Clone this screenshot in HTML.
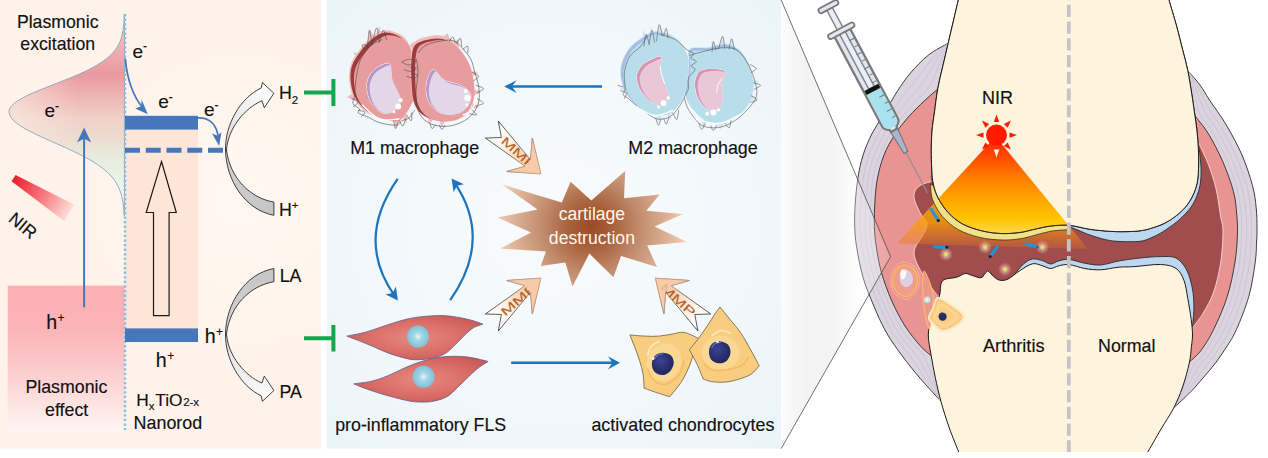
<!DOCTYPE html>
<html>
<head>
<meta charset="utf-8">
<title>Plasmonic nanorod arthritis scheme</title>
<style>
html,body{margin:0;padding:0;background:#fff;}
body{width:1268px;height:458px;overflow:hidden;font-family:"Liberation Sans",sans-serif;}
svg{display:block;}
text{font-family:"Liberation Sans",sans-serif;fill:#111;stroke:#111;stroke-width:0.15px;}
</style>
</head>
<body>
<svg width="1268" height="458" viewBox="0 0 1268 458">
<!-- ===== MIDDLE PANEL ===== -->
<defs>
  <radialGradient id="gMid" cx="0.5" cy="0.5" r="0.72">
    <stop offset="0" stop-color="#f8fbfd"/>
    <stop offset="0.55" stop-color="#f2f8fb"/>
    <stop offset="1" stop-color="#ebf4f9"/>
  </radialGradient>
  <radialGradient id="gStar" gradientUnits="userSpaceOnUse" cx="591" cy="226" r="95">
    <stop offset="0" stop-color="#9a4a24"/>
    <stop offset="0.25" stop-color="#a9633f"/>
    <stop offset="0.5" stop-color="#c08a6b"/>
    <stop offset="0.8" stop-color="#dcb094"/>
    <stop offset="1" stop-color="#efcdb4"/>
  </radialGradient>
  <linearGradient id="gMMP" gradientUnits="userSpaceOnUse" x1="492" y1="128" x2="538" y2="170">
    <stop offset="0" stop-color="#ffffff"/>
    <stop offset="0.35" stop-color="#fdf1e6"/>
    <stop offset="0.7" stop-color="#f9d3b5"/>
    <stop offset="1" stop-color="#f7c6a0"/>
  </linearGradient>
  <linearGradient id="gMMPs" gradientUnits="userSpaceOnUse" x1="492" y1="128" x2="538" y2="170">
    <stop offset="0" stop-color="#2a2a2a"/>
    <stop offset="0.55" stop-color="#555"/>
    <stop offset="1" stop-color="#c99a7c"/>
  </linearGradient>
  <radialGradient id="gFLS" cx="0.5" cy="0.5" r="0.6">
    <stop offset="0" stop-color="#e58980"/>
    <stop offset="0.55" stop-color="#db6f68"/>
    <stop offset="1" stop-color="#c95854"/>
  </radialGradient>
  <radialGradient id="gFN" cx="0.5" cy="0.5" r="0.5">
    <stop offset="0" stop-color="#e8f6fa"/>
    <stop offset="0.35" stop-color="#a6d8e6"/>
    <stop offset="1" stop-color="#7fc1d8"/>
  </radialGradient>
  <radialGradient id="gCN" cx="0.4" cy="0.35" r="0.7">
    <stop offset="0" stop-color="#3a4596"/>
    <stop offset="0.6" stop-color="#2a2f6e"/>
    <stop offset="1" stop-color="#20245a"/>
  </radialGradient>
  <g id="mmpArrow">
    <path d="M498.3,121 L530.5,159.7 L532.3,138.3 L540.9,173.9 L506.8,171.5 L525.1,166.3 L485.4,138 L501.4,137.5 Z" fill="url(#gMMP)" stroke="url(#gMMPs)" stroke-width="0.8" stroke-linejoin="miter"/>
  </g>
</defs>
<rect x="326.6" y="0" width="454.5" height="448.6" fill="url(#gMid)"/>
<g id="mid">
<path d="M367.9,42.2 L369.8,28.4 L374.4,38.8 Z" fill="#f0bcbb"/>
<path d="M374.4,38.8 L379.4,26.1 L381.7,37.6 Z" fill="#f0bcbb"/>
<path d="M381.7,36.5 L385.8,29.6 L388.6,36.0 Z" fill="#f0bcbb"/>
<path d="M358.8,59.4 L353.0,52.5 L364.5,53.7 Z" fill="#f0bcbb"/>
<path d="M351.9,93.8 L346.8,97.2 L355.3,100.7 Z" fill="#f0bcbb"/>
<path d="M394.3,120.2 L395.9,127.1 L400.0,119.0 Z" fill="#f0bcbb"/>
<path d="M402.3,116.7 L406.5,123.6 L407.4,113.3 Z" fill="#f0bcbb"/>
<path d="M409.2,45.6 L413.8,41.1 L412.7,50.2 Z" fill="#f0bcbb"/>
<path d="M384.2,30.3 C389.0,29.7 395.8,31.8 399.9,34.0 C403.9,36.2 406.3,39.1 408.4,43.6 C410.4,48.0 410.9,54.4 411.9,60.5 C412.9,66.5 414.3,73.7 414.3,79.7 C414.3,85.7 413.5,91.3 411.9,96.6 C410.3,101.8 407.5,107.1 404.7,111.1 C401.9,115.1 399.1,119.4 395.1,120.6 C391.1,121.8 385.5,119.6 380.6,118.2 C375.8,116.8 370.6,115.4 366.1,112.2 C361.7,109.0 357.0,104.0 354.2,99.0 C351.4,94.0 350.0,87.7 349.3,82.1 C348.7,76.5 348.9,70.5 350.5,65.3 C352.1,60.1 355.5,55.4 358.9,50.8 C362.3,46.2 366.8,41.0 371.0,37.6 C375.2,34.2 379.4,30.9 384.2,30.3 Z" fill="#f0bcbb"/>
<clipPath id="clipBm1a"><path d="M385.9,32.8 C390.6,32.2 397.3,34.2 401.3,36.4 C405.2,38.6 407.6,41.4 409.6,45.8 C411.6,50.1 412.1,56.4 413.1,62.4 C414.1,68.3 415.5,75.3 415.5,81.2 C415.5,87.1 414.7,92.7 413.1,97.8 C411.5,102.9 408.7,108.1 406.0,112.0 C403.2,115.9 400.5,120.2 396.6,121.4 C392.7,122.5 387.1,120.4 382.4,119.0 C377.7,117.6 372.5,116.3 368.2,113.1 C363.9,110.0 359.2,105.1 356.4,100.2 C353.7,95.2 352.3,89.1 351.7,83.6 C351.1,78.1 351.3,72.2 352.8,67.1 C354.4,62.0 357.7,57.4 361.1,52.9 C364.4,48.3 368.8,43.2 372.9,39.9 C377.1,36.6 381.2,33.4 385.9,32.8 Z"/></clipPath>
<path d="M384.0,32.7 C388.6,32.1 395.1,34.1 398.9,36.2 C402.7,38.3 405.1,41.1 407.0,45.3 C408.9,49.5 409.5,55.7 410.4,61.4 C411.4,67.1 412.7,74.0 412.7,79.7 C412.7,85.4 411.9,90.8 410.4,95.8 C408.9,100.8 406.2,105.8 403.5,109.6 C400.8,113.4 398.2,117.6 394.4,118.7 C390.6,119.8 385.2,117.7 380.6,116.4 C376.0,115.1 371.0,113.8 366.8,110.7 C362.6,107.7 358.1,102.9 355.4,98.1 C352.7,93.3 351.4,87.3 350.8,82.0 C350.2,76.7 350.4,71.0 351.9,66.0 C353.4,61.0 356.7,56.6 359.9,52.2 C363.2,47.8 367.4,42.9 371.4,39.6 C375.4,36.4 379.4,33.3 384.0,32.7 Z" fill="#9f3b3d"/>
<path d="M387.4,35.3 C392.0,34.7 398.5,36.7 402.3,38.8 C406.1,40.9 408.5,43.7 410.4,47.9 C412.3,52.1 412.9,58.3 413.8,64.0 C414.8,69.7 416.1,76.6 416.1,82.3 C416.1,88.0 415.3,93.4 413.8,98.4 C412.3,103.4 409.6,108.4 406.9,112.2 C404.2,116.0 401.6,120.2 397.8,121.3 C394.0,122.4 388.6,120.3 384.0,119.0 C379.4,117.7 374.4,116.3 370.2,113.3 C366.0,110.2 361.5,105.5 358.8,100.7 C356.1,95.9 354.8,89.9 354.2,84.6 C353.6,79.2 353.8,73.6 355.3,68.6 C356.8,63.6 360.1,59.2 363.3,54.8 C366.6,50.4 370.8,45.5 374.8,42.2 C378.8,39.0 382.8,35.9 387.4,35.3 Z" fill="#e79d9d"/>
<path d="M389.7,64.0 C391.8,66.3 390.3,74.3 392.0,80.0 C393.7,85.7 399.2,93.6 400.0,98.4 C400.8,103.2 399.3,106.2 396.6,108.7 C393.9,111.2 388.2,114.2 384.0,113.3 C379.8,112.3 374.3,107.4 371.4,103.0 C368.5,98.6 367.0,91.7 366.8,86.9 C366.6,82.1 368.1,77.7 370.2,74.3 C372.3,70.9 376.1,68.0 379.4,66.3 C382.6,64.6 387.6,61.7 389.7,64.0 Z" fill="#e3d7e7" stroke="#f3eef5" stroke-width="0.9"/>
<clipPath id="clipm1a"><path d="M389.7,64.0 C391.8,66.3 390.3,74.3 392.0,80.0 C393.7,85.7 399.2,93.6 400.0,98.4 C400.8,103.2 399.3,106.2 396.6,108.7 C393.9,111.2 388.2,114.2 384.0,113.3 C379.8,112.3 374.3,107.4 371.4,103.0 C368.5,98.6 367.0,91.7 366.8,86.9 C366.6,82.1 368.1,77.7 370.2,74.3 C372.3,70.9 376.1,68.0 379.4,66.3 C382.6,64.6 387.6,61.7 389.7,64.0 Z"/></clipPath>
<g clip-path="url(#clipm1a)"><path d="M389.7,64.0 C391.8,66.3 390.3,74.3 392.0,80.0 C393.7,85.7 399.2,93.6 400.0,98.4 C400.8,103.2 399.3,106.2 396.6,108.7 C393.9,111.2 388.2,114.2 384.0,113.3 C379.8,112.3 374.3,107.4 371.4,103.0 C368.5,98.6 367.0,91.7 366.8,86.9 C366.6,82.1 368.1,77.7 370.2,74.3 C372.3,70.9 376.1,68.0 379.4,66.3 C382.6,64.6 387.6,61.7 389.7,64.0 Z" fill="#b898c8"/><path d="M389.6,64.2 C391.7,66.5 390.2,74.4 391.9,80.1 C393.6,85.8 399.1,93.6 399.8,98.3 C400.6,103.0 399.1,106.0 396.5,108.5 C393.8,111.0 388.2,114.0 384.0,113.1 C379.8,112.1 374.4,107.2 371.5,102.9 C368.7,98.5 367.2,91.6 367.0,86.9 C366.8,82.2 368.3,77.8 370.3,74.4 C372.4,71.0 376.2,68.2 379.4,66.5 C382.7,64.8 387.6,62.0 389.6,64.2 Z" fill="#e3d7e7" transform="translate(2.6,1.8)"/></g>
<circle cx="400.7" cy="100.2" r="2.1" fill="#fff" opacity="0.96"/>
<circle cx="398.2" cy="106.4" r="3.0" fill="#fff" opacity="0.96"/>
<circle cx="393.9" cy="111.7" r="1.5" fill="#fff" opacity="0.96"/>
<path d="M432.5,42.2 L436.0,34.2 L440.6,40.6 Z" fill="#f0bcbb"/>
<path d="M440.6,40.6 L447.4,33.0 L450.9,42.2 Z" fill="#f0bcbb"/>
<path d="M452.0,43.3 L458.9,38.8 L458.9,47.9 Z" fill="#f0bcbb"/>
<path d="M471.5,70.9 L477.9,72.0 L473.3,76.6 Z" fill="#f0bcbb"/>
<path d="M473.3,89.2 L480.7,91.5 L473.8,96.1 Z" fill="#f0bcbb"/>
<path d="M472.7,103.0 L479.5,107.6 L471.1,108.7 Z" fill="#f0bcbb"/>
<path d="M427.9,116.7 L429.1,124.8 L433.7,119.0 Z" fill="#f0bcbb"/>
<path d="M439.4,121.3 L441.7,127.1 L445.1,121.3 Z" fill="#f0bcbb"/>
<path d="M414.4,42.3 C417.4,38.7 423.9,37.4 428.8,36.3 C433.6,35.2 438.8,34.6 443.2,35.8 C447.7,37.0 451.3,39.3 455.3,43.4 C459.3,47.5 464.5,54.3 467.3,60.3 C470.1,66.4 471.3,73.5 472.1,79.5 C472.9,85.6 473.3,91.0 472.1,96.5 C470.9,101.9 468.1,108.3 464.9,112.1 C461.7,115.9 457.7,117.9 452.9,119.3 C448.1,120.7 441.2,121.3 436.0,120.5 C430.8,119.7 425.3,117.7 421.5,114.5 C417.7,111.3 414.9,107.1 413.1,101.3 C411.3,95.5 411.1,86.8 410.7,79.5 C410.3,72.3 410.1,64.1 410.7,57.9 C411.3,51.7 411.4,45.9 414.4,42.3 Z" fill="#f0bcbb"/>
<clipPath id="clipBm1b"><path d="M416.6,44.6 C419.5,41.0 426.0,39.8 430.7,38.7 C435.4,37.6 440.5,37.0 444.9,38.2 C449.2,39.3 452.8,41.7 456.7,45.7 C460.7,49.7 465.7,56.4 468.5,62.3 C471.2,68.2 472.4,75.2 473.2,81.1 C474.0,87.0 474.4,92.4 473.2,97.7 C472.0,103.0 469.2,109.3 466.1,113.1 C463.0,116.8 459.1,118.8 454.4,120.2 C449.6,121.5 442.9,122.1 437.8,121.3 C432.6,120.5 427.3,118.6 423.6,115.4 C419.8,112.3 417.1,108.2 415.3,102.5 C413.6,96.7 413.4,88.2 413.0,81.1 C412.6,74.0 412.4,66.0 413.0,59.9 C413.6,53.8 413.6,48.1 416.6,44.6 Z"/></clipPath>
<path d="M415.0,45.2 C417.9,41.8 424.1,40.5 428.7,39.5 C433.3,38.5 438.3,37.9 442.5,39.0 C446.7,40.1 450.2,42.4 454.0,46.3 C457.8,50.2 462.7,56.7 465.4,62.4 C468.1,68.1 469.2,75.0 470.0,80.7 C470.8,86.4 471.1,91.6 470.0,96.8 C468.9,102.0 466.1,108.1 463.1,111.7 C460.0,115.3 456.3,117.3 451.7,118.6 C447.1,119.9 440.6,120.5 435.6,119.7 C430.6,118.9 425.4,117.0 421.8,114.0 C418.2,111.0 415.5,107.0 413.8,101.4 C412.1,95.9 411.9,87.6 411.5,80.7 C411.1,73.8 410.9,66.0 411.5,60.1 C412.1,54.2 412.1,48.6 415.0,45.2 Z" fill="#9f3b3d"/>
<path d="M418.8,46.8 C421.7,43.4 427.9,42.1 432.5,41.1 C437.1,40.1 442.1,39.5 446.3,40.6 C450.5,41.7 454.0,44.0 457.8,47.9 C461.6,51.8 466.5,58.3 469.2,64.0 C471.9,69.7 473.0,76.6 473.8,82.3 C474.6,88.0 475.0,93.2 473.8,98.4 C472.6,103.6 469.9,109.7 466.9,113.3 C463.8,116.9 460.1,118.9 455.5,120.2 C450.9,121.5 444.4,122.1 439.4,121.3 C434.4,120.5 429.2,118.6 425.6,115.6 C422.0,112.5 419.3,108.5 417.6,103.0 C415.9,97.5 415.7,89.2 415.3,82.3 C414.9,75.4 414.7,67.6 415.3,61.7 C415.9,55.8 415.9,50.2 418.8,46.8 Z" fill="#e79d9d"/>
<path d="M433.7,69.7 C436.4,70.1 439.6,77.4 444.0,80.0 C448.4,82.6 455.6,82.8 460.0,85.1 C464.4,87.4 469.0,90.4 470.4,93.8 C471.8,97.2 470.2,102.0 468.1,105.3 C466.0,108.5 462.2,112.0 457.8,113.3 C453.4,114.6 446.3,114.8 441.7,113.3 C437.1,111.8 432.8,107.7 430.2,104.1 C427.6,100.5 426.5,95.9 426.1,91.5 C425.7,87.1 426.6,81.4 427.9,77.8 C429.2,74.2 431.0,69.3 433.7,69.7 Z" fill="#e3d7e7" stroke="#f3eef5" stroke-width="0.9"/>
<clipPath id="clipm1b"><path d="M433.7,69.7 C436.4,70.1 439.6,77.4 444.0,80.0 C448.4,82.6 455.6,82.8 460.0,85.1 C464.4,87.4 469.0,90.4 470.4,93.8 C471.8,97.2 470.2,102.0 468.1,105.3 C466.0,108.5 462.2,112.0 457.8,113.3 C453.4,114.6 446.3,114.8 441.7,113.3 C437.1,111.8 432.8,107.7 430.2,104.1 C427.6,100.5 426.5,95.9 426.1,91.5 C425.7,87.1 426.6,81.4 427.9,77.8 C429.2,74.2 431.0,69.3 433.7,69.7 Z"/></clipPath>
<g clip-path="url(#clipm1b)"><path d="M433.7,69.7 C436.4,70.1 439.6,77.4 444.0,80.0 C448.4,82.6 455.6,82.8 460.0,85.1 C464.4,87.4 469.0,90.4 470.4,93.8 C471.8,97.2 470.2,102.0 468.1,105.3 C466.0,108.5 462.2,112.0 457.8,113.3 C453.4,114.6 446.3,114.8 441.7,113.3 C437.1,111.8 432.8,107.7 430.2,104.1 C427.6,100.5 426.5,95.9 426.1,91.5 C425.7,87.1 426.6,81.4 427.9,77.8 C429.2,74.2 431.0,69.3 433.7,69.7 Z" fill="#b898c8"/><path d="M433.8,69.9 C436.5,70.3 439.7,77.6 444.0,80.1 C448.4,82.7 455.5,82.9 459.9,85.2 C464.2,87.5 468.8,90.5 470.2,93.8 C471.5,97.1 470.0,102.0 467.9,105.2 C465.8,108.4 462.0,111.8 457.7,113.1 C453.3,114.4 446.3,114.6 441.7,113.1 C437.2,111.6 432.9,107.6 430.4,104.0 C427.8,100.4 426.7,95.9 426.3,91.5 C425.9,87.2 426.8,81.6 428.1,78.0 C429.3,74.4 431.2,69.6 433.8,69.9 Z" fill="#e3d7e7" transform="translate(2.6,1.8)"/></g>
<circle cx="465.8" cy="91.1" r="2.1" fill="#fff" opacity="0.96"/>
<circle cx="467.4" cy="97.9" r="3.2" fill="#fff" opacity="0.96"/>
<circle cx="466.9" cy="104.8" r="1.5" fill="#fff" opacity="0.96"/>
<path d="M381.9,39.6 C380.1,40.5 374.2,42.7 371.4,44.9 C368.6,47.1 366.9,49.9 364.9,52.7 C362.9,55.5 361.1,57.8 359.6,61.9 C358.2,66.0 357.1,71.9 356.2,77.6 C355.3,83.3 354.9,91.5 354.4,95.9 C353.9,100.3 352.2,101.6 353.1,103.8 C354.0,106.0 358.7,107.5 359.6,109.0 C360.5,110.5 356.8,111.5 358.3,112.9 C359.8,114.3 365.3,115.8 368.8,117.4 C372.3,119.0 374.7,121.3 379.3,122.6 C383.9,123.9 392.6,125.5 396.3,125.2 C400.0,124.9 399.4,122.0 401.5,120.8 C403.6,119.6 406.4,120.0 408.6,118.2 C410.8,116.5 413.6,111.6 414.6,110.3" fill="none" stroke="#4a4a4a" stroke-width="0.6" stroke-linecap="round"/>
<path d="M418.5,52.7 C419.8,51.4 422.0,47.0 426.4,44.9 C430.8,42.8 439.9,41.0 444.7,40.4 C449.5,39.8 452.1,40.1 455.2,41.5 C458.2,42.9 460.4,45.8 463.0,48.8 C465.6,51.8 468.9,55.4 470.9,59.3 C472.9,63.2 473.5,67.8 474.8,72.4 C476.1,77.0 478.1,81.6 478.7,86.8 C479.3,92.0 479.9,98.6 478.2,103.8 C476.5,109.0 473.0,114.5 468.3,118.2 C463.6,121.9 456.0,125.0 449.9,126.0 C443.8,127.0 436.6,126.2 431.6,124.2 C426.6,122.2 422.4,118.9 419.8,114.2 C417.2,109.5 416.2,102.9 415.9,95.9 C415.6,88.9 417.9,78.5 418.0,72.4 C418.1,66.3 416.7,61.5 416.4,59.3" fill="none" stroke="#4a4a4a" stroke-width="0.6" stroke-linecap="round"/>
<path d="M367.5,47.5 C367.8,44.7 368.6,30.9 369.3,30.5 C370.0,30.1 371.5,42.5 371.9,44.9" fill="none" stroke="#4a4a4a" stroke-width="0.6" stroke-linecap="round"/>
<path d="M371.9,44.9 C372.7,42.1 375.4,28.3 376.6,27.9 C377.8,27.5 378.9,39.9 379.3,42.3" fill="none" stroke="#4a4a4a" stroke-width="0.6" stroke-linecap="round"/>
<path d="M379.3,42.3 C379.9,40.3 382.0,30.9 383.2,30.5 C384.4,30.1 386.0,38.1 386.6,39.6" fill="none" stroke="#4a4a4a" stroke-width="0.6" stroke-linecap="round"/>
<path d="M364.9,51.4 C364.5,50.3 361.6,45.8 362.3,44.9 C363.0,44.0 368.1,46.0 369.3,46.2" fill="none" stroke="#4a4a4a" stroke-width="0.6" stroke-linecap="round"/>
<path d="M401.5,61.9 C402.7,62.4 406.2,65.1 408.6,65.0 C411.0,64.9 415.9,62.4 415.9,61.4 C415.9,60.4 410.8,59.3 408.6,59.3 C406.4,59.3 403.8,61.0 402.8,61.4" fill="none" stroke="#4a4a4a" stroke-width="0.6" stroke-linecap="round"/>
<path d="M404.1,69.7 C405.3,70.0 409.1,71.5 411.2,71.3 C413.2,71.0 416.6,68.9 416.4,68.2 C416.2,67.5 411.2,67.3 410.2,67.1" fill="none" stroke="#4a4a4a" stroke-width="0.6" stroke-linecap="round"/>
<path d="M406.8,76.3 C408.0,76.6 412.0,78.3 413.8,78.1 C415.6,77.9 418.0,75.7 417.7,75.0 C417.4,74.3 412.9,73.9 412.0,73.7" fill="none" stroke="#4a4a4a" stroke-width="0.6" stroke-linecap="round"/>
<path d="M351.8,98.5 C352.9,99.0 358.0,100.4 358.3,101.7 C358.6,103.0 354.4,105.6 353.6,106.4" fill="none" stroke="#4a4a4a" stroke-width="0.6" stroke-linecap="round"/>
<path d="M358.3,110.3 C359.4,110.6 364.4,111.1 364.9,112.1 C365.4,113.1 362.1,115.6 361.5,116.3" fill="none" stroke="#4a4a4a" stroke-width="0.6" stroke-linecap="round"/>
<path d="M393.7,120.8 C394.0,122.1 394.8,128.4 395.5,128.6 C396.2,128.8 397.7,123.2 398.1,122.1" fill="none" stroke="#4a4a4a" stroke-width="0.6" stroke-linecap="round"/>
<path d="M399.2,120.5 C399.8,121.4 401.8,126.2 402.8,126.0 C403.8,125.8 405.0,120.2 405.4,119.0" fill="none" stroke="#4a4a4a" stroke-width="0.6" stroke-linecap="round"/>
<path d="M406.8,115.5 C407.5,116.4 410.4,121.2 411.2,120.8 C412.0,120.4 411.6,114.2 411.7,112.9" fill="none" stroke="#4a4a4a" stroke-width="0.6" stroke-linecap="round"/>
<path d="M430.3,124.2 C430.6,124.9 431.2,128.5 432.1,128.6 C433.0,128.7 434.9,125.3 435.5,124.7" fill="none" stroke="#4a4a4a" stroke-width="0.6" stroke-linecap="round"/>
<path d="M439.5,125.2 C439.9,125.9 441.2,129.4 442.1,129.4 C443.0,129.4 444.3,125.9 444.7,125.2" fill="none" stroke="#4a4a4a" stroke-width="0.6" stroke-linecap="round"/>
<path d="M472.2,72.4 C473.3,73.1 478.5,74.9 478.7,76.3 C478.9,77.7 474.4,80.0 473.5,80.7" fill="none" stroke="#4a4a4a" stroke-width="0.6" stroke-linecap="round"/>
<path d="M476.1,85.4 C477.3,85.9 483.3,87.4 483.5,88.6 C483.7,89.8 478.4,92.1 477.4,92.8" fill="none" stroke="#4a4a4a" stroke-width="0.6" stroke-linecap="round"/>
<path d="M476.6,98.5 C477.8,99.3 483.6,102.0 483.5,103.2 C483.4,104.4 477.3,105.5 476.1,105.9" fill="none" stroke="#4a4a4a" stroke-width="0.6" stroke-linecap="round"/>
<path d="M470.9,109.0 C471.8,110.0 476.8,114.0 476.6,114.8 C476.4,115.6 470.8,113.9 469.6,113.7" fill="none" stroke="#4a4a4a" stroke-width="0.6" stroke-linecap="round"/>
<path d="M449.9,40.9 C450.3,40.2 451.7,36.8 452.6,37.0 C453.5,37.2 454.8,41.4 455.2,42.3" fill="none" stroke="#4a4a4a" stroke-width="0.6" stroke-linecap="round"/>
<path d="M456.5,43.6 C457.1,42.7 459.5,37.9 460.4,38.3 C461.3,38.7 461.5,44.9 461.7,46.2" fill="none" stroke="#4a4a4a" stroke-width="0.6" stroke-linecap="round"/>
<path d="M463.0,49.3 C463.8,48.8 466.9,45.6 467.7,46.2 C468.5,46.8 467.7,51.6 467.7,52.7" fill="none" stroke="#4a4a4a" stroke-width="0.6" stroke-linecap="round"/>
<path d="M362.3,105.1 C365.1,107.4 373.2,116.7 379.3,119.0 C385.4,121.3 395.6,119.0 398.9,119.0" fill="none" stroke="#ffffff" stroke-width="1.3" stroke-linecap="round"/>
<path d="M463.0,114.8 C464.4,114.0 469.1,113.0 471.4,110.3 C473.7,107.6 475.7,100.5 476.6,98.5" fill="none" stroke="#ffffff" stroke-width="1.3" stroke-linecap="round"/>
<path d="M643.7,42.2 L642.5,29.6 L648.3,38.8 Z" fill="#cfe5f0"/>
<path d="M649.4,38.8 L651.2,26.1 L654.4,36.5 Z" fill="#cfe5f0"/>
<path d="M657.4,35.3 L659.7,25.0 L663.2,36.5 Z" fill="#cfe5f0"/>
<path d="M619.6,86.9 L625.3,88.1 L624.2,92.7 Z" fill="#cfe5f0"/>
<path d="M656.3,115.6 L658.1,123.6 L662.0,116.3 Z" fill="#cfe5f0"/>
<path d="M666.6,113.3 L670.0,120.2 L672.3,111.0 Z" fill="#cfe5f0"/>
<path d="M654.3,31.0 C659.0,30.6 666.0,32.2 670.7,34.5 C675.5,36.9 679.6,40.6 682.6,45.1 C685.5,49.6 687.7,55.8 688.4,61.7 C689.2,67.6 688.3,75.0 687.3,80.5 C686.3,86.1 684.9,90.0 682.6,94.8 C680.2,99.5 677.0,105.6 673.1,109.0 C669.2,112.3 664.1,114.7 659.0,114.8 C653.9,115.0 647.5,113.1 642.4,110.1 C637.3,107.2 631.8,102.1 628.3,97.1 C624.8,92.2 622.4,86.1 621.2,80.5 C620.0,75.0 619.8,69.6 621.2,64.1 C622.6,58.6 625.9,52.0 629.4,47.5 C633.0,43.0 638.3,39.6 642.4,36.9 C646.5,34.1 649.5,31.4 654.3,31.0 Z" fill="#cfe5f0"/>
<clipPath id="clipBm2a"><path d="M654.8,31.8 C659.5,31.4 666.5,33.0 671.2,35.3 C676.0,37.7 680.1,41.4 683.1,45.9 C686.0,50.4 688.2,56.6 688.9,62.5 C689.7,68.4 688.8,75.8 687.8,81.3 C686.8,86.9 685.4,90.8 683.1,95.6 C680.7,100.3 677.5,106.4 673.6,109.8 C669.7,113.1 664.6,115.5 659.5,115.6 C654.4,115.8 648.0,113.9 642.9,110.9 C637.8,108.0 632.3,102.9 628.8,97.9 C625.3,93.0 622.9,86.9 621.7,81.3 C620.5,75.8 620.3,70.4 621.7,64.9 C623.1,59.4 626.4,52.8 629.9,48.3 C633.5,43.8 638.8,40.4 642.9,37.7 C647.0,34.9 650.0,32.2 654.8,31.8 Z"/></clipPath>
<path d="M653.9,32.4 C658.5,32.0 665.3,33.5 669.9,35.8 C674.5,38.1 678.5,41.7 681.4,46.1 C684.3,50.5 686.3,56.5 687.1,62.2 C687.9,67.9 687.0,75.2 686.0,80.5 C685.0,85.8 683.7,89.7 681.4,94.3 C679.1,98.9 676.0,104.9 672.2,108.1 C668.4,111.4 663.5,113.6 658.5,113.8 C653.5,114.0 647.4,112.1 642.4,109.2 C637.4,106.3 632.1,101.4 628.7,96.6 C625.3,91.8 623.0,85.8 621.8,80.5 C620.7,75.2 620.5,69.8 621.8,64.5 C623.1,59.1 626.4,52.8 629.8,48.4 C633.2,44.0 638.4,40.8 642.4,38.1 C646.4,35.4 649.3,32.8 653.9,32.4 Z" fill="#a5bde3"/>
<path d="M656.3,34.2 C660.9,33.8 667.7,35.3 672.3,37.6 C676.9,39.9 680.9,43.5 683.8,47.9 C686.7,52.3 688.7,58.3 689.5,64.0 C690.3,69.7 689.4,77.0 688.4,82.3 C687.4,87.6 686.1,91.5 683.8,96.1 C681.5,100.7 678.4,106.7 674.6,109.9 C670.8,113.2 665.9,115.4 660.9,115.6 C655.9,115.8 649.8,113.9 644.8,111.0 C639.8,108.1 634.5,103.2 631.1,98.4 C627.7,93.6 625.4,87.7 624.2,82.3 C623.1,76.9 622.9,71.6 624.2,66.3 C625.5,60.9 628.8,54.6 632.2,50.2 C635.6,45.8 640.8,42.6 644.8,39.9 C648.8,37.2 651.7,34.6 656.3,34.2 Z" fill="#b8deec"/>
<path d="M660.9,57.1 C662.2,59.0 658.9,65.9 659.7,70.9 C660.5,75.9 664.0,82.7 665.5,86.9 C667.0,91.1 669.1,93.2 668.9,96.1 C668.7,99.0 667.0,102.9 664.3,104.1 C661.6,105.2 656.6,105.1 652.8,103.0 C649.0,100.9 644.1,95.9 641.4,91.5 C638.7,87.1 636.6,81.0 636.8,76.6 C637.0,72.2 640.0,68.0 642.5,65.1 C645.0,62.2 648.6,60.7 651.7,59.4 C654.8,58.1 659.6,55.2 660.9,57.1 Z" fill="#e9c7d7" stroke="#f3eef5" stroke-width="0.9"/>
<clipPath id="clipm2a"><path d="M660.9,57.1 C662.2,59.0 658.9,65.9 659.7,70.9 C660.5,75.9 664.0,82.7 665.5,86.9 C667.0,91.1 669.1,93.2 668.9,96.1 C668.7,99.0 667.0,102.9 664.3,104.1 C661.6,105.2 656.6,105.1 652.8,103.0 C649.0,100.9 644.1,95.9 641.4,91.5 C638.7,87.1 636.6,81.0 636.8,76.6 C637.0,72.2 640.0,68.0 642.5,65.1 C645.0,62.2 648.6,60.7 651.7,59.4 C654.8,58.1 659.6,55.2 660.9,57.1 Z"/></clipPath>
<g clip-path="url(#clipm2a)"><path d="M660.9,57.1 C662.2,59.0 658.9,65.9 659.7,70.9 C660.5,75.9 664.0,82.7 665.5,86.9 C667.0,91.1 669.1,93.2 668.9,96.1 C668.7,99.0 667.0,102.9 664.3,104.1 C661.6,105.2 656.6,105.1 652.8,103.0 C649.0,100.9 644.1,95.9 641.4,91.5 C638.7,87.1 636.6,81.0 636.8,76.6 C637.0,72.2 640.0,68.0 642.5,65.1 C645.0,62.2 648.6,60.7 651.7,59.4 C654.8,58.1 659.6,55.2 660.9,57.1 Z" fill="#d693b2"/><path d="M660.8,57.3 C662.2,59.2 658.9,66.1 659.6,71.0 C660.4,75.9 663.9,82.7 665.4,86.8 C666.9,91.0 669.0,93.1 668.8,95.9 C668.6,98.8 666.9,102.7 664.2,103.9 C661.5,105.0 656.6,104.9 652.8,102.8 C649.0,100.7 644.2,95.8 641.5,91.4 C638.9,87.0 636.8,81.0 637.0,76.6 C637.2,72.3 640.2,68.1 642.6,65.3 C645.1,62.4 648.7,60.9 651.7,59.6 C654.8,58.3 659.5,55.4 660.8,57.3 Z" fill="#e9c7d7" transform="translate(2.6,1.8)"/></g>
<circle cx="663.6" cy="103.0" r="3.0" fill="#fff" opacity="0.96"/>
<circle cx="668.2" cy="97.9" r="1.8" fill="#fff" opacity="0.96"/>
<circle cx="658.6" cy="107.1" r="1.5" fill="#fff" opacity="0.96"/>
<path d="M711.0,50.6 L711.7,40.3 L715.6,49.5 Z" fill="#cfe5f0"/>
<path d="M719.0,48.8 L722.4,36.9 L725.4,47.9 Z" fill="#cfe5f0"/>
<path d="M729.3,48.8 L732.8,39.2 L735.0,50.6 Z" fill="#cfe5f0"/>
<path d="M751.1,79.3 L759.1,81.6 L752.9,86.2 Z" fill="#cfe5f0"/>
<path d="M751.6,94.2 L756.8,98.8 L750.0,101.1 Z" fill="#cfe5f0"/>
<path d="M701.8,120.6 L702.9,128.6 L707.5,122.2 Z" fill="#cfe5f0"/>
<path d="M717.8,122.9 L720.1,129.8 L724.7,122.9 Z" fill="#cfe5f0"/>
<path d="M689.7,48.4 C693.1,46.0 702.7,47.9 708.6,47.1 C714.5,46.3 720.0,43.2 725.1,43.6 C730.3,44.0 735.3,46.1 739.3,49.5 C743.2,52.8 746.4,58.2 748.7,63.7 C751.1,69.2 753.3,76.6 753.5,82.6 C753.7,88.5 752.3,94.0 750.0,99.1 C747.6,104.3 743.8,109.6 739.3,113.3 C734.7,117.1 728.3,120.4 722.8,121.6 C717.3,122.8 711.3,122.5 706.2,120.4 C701.1,118.2 695.6,112.9 692.1,108.6 C688.5,104.3 685.8,99.5 685.0,94.4 C684.2,89.3 686.8,83.4 687.3,77.9 C687.9,72.4 688.1,66.3 688.5,61.3 C688.9,56.4 686.4,50.7 689.7,48.4 Z" fill="#cfe5f0"/>
<clipPath id="clipBm2b"><path d="M689.2,49.7 C692.6,47.3 702.2,49.2 708.1,48.4 C714.0,47.6 719.5,44.5 724.6,44.9 C729.8,45.3 734.8,47.4 738.8,50.8 C742.7,54.1 745.9,59.5 748.2,65.0 C750.6,70.5 752.8,77.9 753.0,83.9 C753.2,89.8 751.8,95.3 749.5,100.4 C747.1,105.6 743.3,110.9 738.8,114.6 C734.2,118.4 727.8,121.7 722.3,122.9 C716.8,124.1 710.8,123.8 705.7,121.7 C700.6,119.5 695.1,114.2 691.6,109.9 C688.0,105.6 685.3,100.8 684.5,95.7 C683.7,90.6 686.3,84.7 686.8,79.2 C687.4,73.7 687.6,67.6 688.0,62.6 C688.4,57.7 685.9,52.0 689.2,49.7 Z"/></clipPath>
<path d="M690.5,49.2 C693.8,46.9 703.1,48.8 708.8,48.0 C714.5,47.2 719.9,44.2 724.9,44.6 C729.9,45.0 734.8,47.0 738.6,50.3 C742.4,53.5 745.5,58.8 747.8,64.1 C750.1,69.5 752.2,76.7 752.4,82.4 C752.6,88.1 751.3,93.5 749.0,98.5 C746.7,103.5 743.0,108.7 738.6,112.3 C734.2,115.9 728.0,119.2 722.6,120.3 C717.2,121.4 711.5,121.2 706.5,119.1 C701.5,117.0 696.2,111.9 692.8,107.7 C689.4,103.5 686.7,98.9 685.9,93.9 C685.1,88.9 687.6,83.2 688.2,77.9 C688.8,72.6 688.9,66.6 689.3,61.8 C689.7,57.0 687.2,51.5 690.5,49.2 Z" fill="#a5bde3"/>
<path d="M691.5,51.8 C694.8,49.5 704.1,51.4 709.8,50.6 C715.5,49.8 720.9,46.8 725.9,47.2 C730.9,47.6 735.8,49.6 739.6,52.9 C743.4,56.1 746.5,61.4 748.8,66.7 C751.1,72.0 753.2,79.3 753.4,85.0 C753.6,90.7 752.3,96.1 750.0,101.1 C747.7,106.1 744.0,111.3 739.6,114.9 C735.2,118.5 729.0,121.8 723.6,122.9 C718.2,124.0 712.5,123.8 707.5,121.7 C702.5,119.6 697.2,114.5 693.8,110.3 C690.4,106.1 687.7,101.5 686.9,96.5 C686.1,91.5 688.6,85.8 689.2,80.5 C689.8,75.2 689.9,69.2 690.3,64.4 C690.7,59.6 688.2,54.1 691.5,51.8 Z" fill="#b8deec"/>
<path d="M702.9,70.1 C706.1,69.1 712.9,68.6 716.7,69.0 C720.5,69.4 725.1,70.1 725.9,72.4 C726.7,74.7 721.9,78.4 721.3,82.8 C720.7,87.2 722.8,94.4 722.4,98.8 C722.0,103.2 721.5,107.4 719.0,109.1 C716.5,110.8 711.0,110.8 707.5,109.1 C704.0,107.4 700.4,102.8 698.3,98.8 C696.2,94.8 695.1,89.0 694.9,85.0 C694.7,81.0 695.9,77.2 697.2,74.7 C698.5,72.2 699.6,71.0 702.9,70.1 Z" fill="#e9c7d7" stroke="#f3eef5" stroke-width="0.9"/>
<clipPath id="clipm2b"><path d="M702.9,70.1 C706.1,69.1 712.9,68.6 716.7,69.0 C720.5,69.4 725.1,70.1 725.9,72.4 C726.7,74.7 721.9,78.4 721.3,82.8 C720.7,87.2 722.8,94.4 722.4,98.8 C722.0,103.2 721.5,107.4 719.0,109.1 C716.5,110.8 711.0,110.8 707.5,109.1 C704.0,107.4 700.4,102.8 698.3,98.8 C696.2,94.8 695.1,89.0 694.9,85.0 C694.7,81.0 695.9,77.2 697.2,74.7 C698.5,72.2 699.6,71.0 702.9,70.1 Z"/></clipPath>
<g clip-path="url(#clipm2b)"><path d="M702.9,70.1 C706.1,69.1 712.9,68.6 716.7,69.0 C720.5,69.4 725.1,70.1 725.9,72.4 C726.7,74.7 721.9,78.4 721.3,82.8 C720.7,87.2 722.8,94.4 722.4,98.8 C722.0,103.2 721.5,107.4 719.0,109.1 C716.5,110.8 711.0,110.8 707.5,109.1 C704.0,107.4 700.4,102.8 698.3,98.8 C696.2,94.8 695.1,89.0 694.9,85.0 C694.7,81.0 695.9,77.2 697.2,74.7 C698.5,72.2 699.6,71.0 702.9,70.1 Z" fill="#d693b2"/><path d="M703.0,70.3 C706.2,69.3 712.8,68.8 716.6,69.2 C720.4,69.6 725.0,70.3 725.7,72.5 C726.5,74.8 721.8,78.5 721.2,82.8 C720.6,87.2 722.7,94.3 722.3,98.7 C721.9,103.0 721.4,107.2 718.9,108.9 C716.5,110.6 710.9,110.6 707.5,108.9 C704.1,107.2 700.5,102.7 698.4,98.7 C696.3,94.7 695.2,89.0 695.1,85.0 C694.9,81.0 696.0,77.3 697.3,74.8 C698.7,72.4 699.8,71.2 703.0,70.3 Z" fill="#e9c7d7" transform="translate(2.6,1.8)"/></g>
<circle cx="713.3" cy="112.6" r="3.0" fill="#fff" opacity="0.96"/>
<circle cx="707.1" cy="113.7" r="2.0" fill="#fff" opacity="0.96"/>
<circle cx="718.5" cy="109.8" r="1.6" fill="#fff" opacity="0.96"/>
<path d="M660.0,66.7 C660.3,68.0 661.0,71.5 661.8,74.3 C662.5,77.1 664.0,82.0 664.5,83.5" fill="none" stroke="#ffffff" stroke-width="1.0" stroke-linecap="round"/>
<path d="M721.7,78.6 C721.1,79.7 718.6,82.7 717.8,85.0 C717.0,87.3 716.9,91.2 716.7,92.4" fill="none" stroke="#ffffff" stroke-width="1.0" stroke-linecap="round"/>
<path d="M646.6,36.2 C645.6,37.9 643.7,42.8 640.9,46.2 C638.1,49.6 632.4,52.2 629.6,56.6 C626.9,61.0 625.1,67.1 624.4,72.4 C623.7,77.7 625.4,84.9 625.2,88.6 C625.0,92.3 622.6,92.9 623.1,94.6 C623.6,96.2 626.3,96.9 628.3,98.5 C630.3,100.1 632.3,102.2 634.9,104.3 C637.5,106.4 640.3,108.6 644.0,111.1 C647.7,113.5 652.6,118.1 657.1,119.0 C661.6,119.9 666.8,118.8 670.7,116.3 C674.6,113.8 678.2,108.0 680.7,104.3 C683.2,100.5 685.0,95.5 685.9,93.8" fill="none" stroke="#555" stroke-width="0.6" stroke-linecap="round"/>
<path d="M689.8,55.3 C691.8,54.7 696.6,53.1 701.6,51.9 C706.6,50.7 714.2,48.4 719.9,48.0 C725.6,47.6 731.3,47.2 735.7,49.3 C740.1,51.4 743.1,55.8 746.1,60.6 C749.1,65.4 752.2,72.2 754.0,78.1 C755.8,84.0 757.7,90.7 756.6,95.9 C755.5,101.1 750.9,105.5 747.4,109.5 C743.9,113.5 740.3,117.0 735.7,120.0 C731.1,123.0 725.6,126.4 719.9,127.3 C714.2,128.2 706.8,128.2 701.6,125.2 C696.4,122.2 691.3,114.0 688.5,109.5 C685.7,105.0 685.2,100.3 684.6,98.5" fill="none" stroke="#555" stroke-width="0.6" stroke-linecap="round"/>
<path d="M659.7,34.4 C662.3,35.3 670.8,37.0 675.4,39.6 C680.0,42.2 684.1,47.8 687.2,50.1 C690.3,52.4 693.2,52.2 693.8,53.5 C694.4,54.8 690.2,56.7 690.6,58.0 C691.0,59.3 696.3,60.1 696.4,61.4 C696.5,62.7 691.4,64.4 691.2,65.8 C691.0,67.2 695.6,67.7 695.1,69.7 C694.6,71.8 689.6,74.9 688.5,78.1 C687.4,81.2 688.9,86.0 688.5,88.6 C688.1,91.2 686.3,92.9 685.9,93.8" fill="none" stroke="#555" stroke-width="0.6" stroke-linecap="round"/>
<path d="M644.0,46.2 C644.4,44.2 645.2,34.6 646.1,34.4 C647.0,34.2 648.8,43.1 649.3,44.9" fill="none" stroke="#555" stroke-width="0.6" stroke-linecap="round"/>
<path d="M649.3,43.6 C649.7,41.4 651.0,30.7 651.9,30.5 C652.8,30.3 654.1,40.3 654.5,42.3" fill="none" stroke="#555" stroke-width="0.6" stroke-linecap="round"/>
<path d="M656.6,40.9 C657.0,38.2 658.2,25.6 659.2,24.7 C660.2,23.8 661.9,33.9 662.4,35.7" fill="none" stroke="#555" stroke-width="0.6" stroke-linecap="round"/>
<path d="M663.7,35.7 C664.1,34.5 665.6,28.1 666.3,28.4 C667.0,28.7 667.8,36.2 668.1,37.8" fill="none" stroke="#555" stroke-width="0.6" stroke-linecap="round"/>
<path d="M712.1,51.4 C712.3,49.8 712.8,41.7 713.4,41.5 C714.0,41.3 715.6,48.7 716.0,50.1" fill="none" stroke="#555" stroke-width="0.6" stroke-linecap="round"/>
<path d="M718.6,48.8 C719.3,46.7 721.6,36.3 722.6,36.2 C723.6,36.1 724.4,46.3 724.7,48.3" fill="none" stroke="#555" stroke-width="0.6" stroke-linecap="round"/>
<path d="M729.1,48.8 C729.5,47.1 730.8,38.7 731.7,38.8 C732.6,38.9 733.9,47.5 734.3,49.3" fill="none" stroke="#555" stroke-width="0.6" stroke-linecap="round"/>
<path d="M620.5,90.7 C621.5,91.1 625.6,92.0 626.2,93.3 C626.9,94.6 624.7,97.6 624.4,98.5" fill="none" stroke="#555" stroke-width="0.6" stroke-linecap="round"/>
<path d="M617.9,85.4 C618.8,85.6 622.2,86.6 623.1,86.8" fill="none" stroke="#555" stroke-width="0.6" stroke-linecap="round"/>
<path d="M655.8,118.2 C656.2,119.4 657.5,125.1 658.4,125.2 C659.3,125.3 660.6,120.0 661.0,119.0" fill="none" stroke="#555" stroke-width="0.6" stroke-linecap="round"/>
<path d="M663.7,118.2 C664.1,119.2 665.4,124.4 666.3,124.2 C667.2,124.0 668.5,118.1 668.9,116.9" fill="none" stroke="#555" stroke-width="0.6" stroke-linecap="round"/>
<path d="M672.8,112.9 C673.5,114.0 675.8,119.9 676.8,119.5 C677.8,119.1 678.3,111.8 678.6,110.3" fill="none" stroke="#555" stroke-width="0.6" stroke-linecap="round"/>
<path d="M699.0,123.4 C699.4,124.4 700.6,129.3 701.6,129.4 C702.6,129.5 704.3,125.1 704.8,124.2" fill="none" stroke="#555" stroke-width="0.6" stroke-linecap="round"/>
<path d="M710.8,126.0 C711.2,126.8 712.4,130.6 713.4,130.5 C714.4,130.4 716.2,126.1 716.8,125.2" fill="none" stroke="#555" stroke-width="0.6" stroke-linecap="round"/>
<path d="M725.2,123.4 C725.9,124.2 728.2,128.3 729.1,127.9 C730.0,127.5 730.6,122.0 730.9,120.8" fill="none" stroke="#555" stroke-width="0.6" stroke-linecap="round"/>
<path d="M750.1,64.5 C751.1,65.2 755.9,67.1 756.1,68.4 C756.3,69.7 752.2,71.7 751.4,72.4" fill="none" stroke="#555" stroke-width="0.6" stroke-linecap="round"/>
<path d="M753.5,82.8 C754.7,83.2 760.4,84.3 760.5,85.4 C760.6,86.5 755.1,88.7 754.0,89.4" fill="none" stroke="#555" stroke-width="0.6" stroke-linecap="round"/>
<path d="M751.4,95.9 C752.4,96.6 757.3,98.7 757.1,99.8 C756.9,100.9 751.3,102.0 750.1,102.5" fill="none" stroke="#555" stroke-width="0.6" stroke-linecap="round"/>
<path d="M636.2,106.4 C639.2,107.9 648.4,114.8 654.5,115.5 C660.6,116.2 669.8,111.2 672.8,110.3" fill="none" stroke="#ffffff" stroke-width="1.3" stroke-linecap="round"/>
<path d="M696.4,119.5 C700.3,120.2 712.5,124.3 719.9,123.4 C727.3,122.5 737.4,115.7 740.9,114.2" fill="none" stroke="#ffffff" stroke-width="1.3" stroke-linecap="round"/>
<text x="350.2" y="154.4" font-size="17.7" textLength="129.0" lengthAdjust="spacingAndGlyphs" >M1 macrophage</text>
<text x="628.3" y="154.4" font-size="17.7" textLength="129.5" lengthAdjust="spacingAndGlyphs" >M2 macrophage</text>
<text x="335.2" y="431.3" font-size="17.7" textLength="171.0" lengthAdjust="spacingAndGlyphs" >pro-inflammatory FLS</text>
<text x="591.4" y="431.3" font-size="17.7" textLength="183.0" lengthAdjust="spacingAndGlyphs" >activated chondrocytes</text>
<line x1="602" y1="86.6" x2="510" y2="86.6" stroke="#1c75bc" stroke-width="2.5"/>
<path d="M504.2,86.6 L516.6,80.2 L511.8,86.6 L516.6,93 Z" fill="#1c75bc"/>
<line x1="511.2" y1="362.8" x2="614" y2="362.8" stroke="#1c75bc" stroke-width="2.5"/>
<path d="M620,362.8 L607.8,356.2 L612.6,362.8 L607.8,369.4 Z" fill="#1c75bc"/>
<path d="M397.7,178.8 Q355.1,239.4 394.5,295.6" fill="none" stroke="#1c75bc" stroke-width="2.2"/>
<path d="M397.9,300.4 L385.6,294.6 L392.6,293 L395.9,286.6 Z" fill="#1c75bc"/>
<path d="M450.2,300.1 Q492.8,239.4 454.8,183.2" fill="none" stroke="#1c75bc" stroke-width="2.2"/>
<path d="M451.6,178.4 L463.9,184.2 L456.9,185.8 L453.6,192.2 Z" fill="#1c75bc"/>
<path d="M497.6,217.5 L537.5,209.5 L502.2,184.5 L561.8,202.6 L570.6,181.8 L591.3,200.4 L625.2,170.9 L624.0,198.2 L659.7,194.5 L646.3,210.7 L683.0,214.1 L654.6,226.6 L687.0,241.9 L647.2,245.5 L657.0,267.0 L621.0,256.0 L613.4,277.2 L589.3,253.5 L572.5,286.6 L565.3,262.6 L540.7,265.9 L546.0,251.5 L500.2,248.5 L531.0,232.5 Z" fill="url(#gStar)"/>
<text x="591.9" y="220" font-size="17.6" text-anchor="middle" style="fill:#fff6ee;stroke:none">cartilage</text>
<text x="591.9" y="244" font-size="17.6" text-anchor="middle" style="fill:#fff6ee;stroke:none">destruction</text>
<use href="#mmpArrow"/>
<text transform="translate(500.3,141.9) rotate(42.5) scale(1.56,1)" style="fill:#b5621e;stroke:#b5621e;stroke-width:0.1" font-size="11.8">MMP</text>
<path d="M530.5,159.7 L532.3,138.3 L540.9,173.9 L506.8,171.5 L525.1,166.3" fill="#f8cba8" stroke="#b9917a" stroke-width="0.6"/>
<use href="#mmpArrow" transform="translate(0,452) scale(1,-1)"/>
<text transform="translate(505.3,316.8) rotate(-41.5) scale(1.56,1)" style="fill:#b5621e;stroke:#b5621e;stroke-width:0.1" font-size="11.8">MMP</text>
<path d="M530.5,292.3 L532.3,313.7 L540.9,278.1 L506.8,280.5 L525.1,285.7" fill="#f8cba8" stroke="#b9917a" stroke-width="0.6"/>
<use href="#mmpArrow" transform="translate(1196.2,452) scale(-1,-1)"/>
<text transform="translate(659.5,288.4) rotate(42.5) scale(1.56,1)" style="fill:#b5621e;stroke:#b5621e;stroke-width:0.1" font-size="11.8">MMP</text>
<path d="M665.7,292.3 L663.9,313.7 L655.3,278.1 L689.4,280.5 L671.1,285.7" fill="#f8cba8" fill-opacity="0.78" stroke="#b9917a" stroke-width="0.6"/>
<path d="M346.8,336.1 C350.1,335.4 359.6,333.8 366.4,331.9 C373.2,330.0 380.4,327.1 387.4,324.9 C394.4,322.7 401.8,320.2 408.3,318.8 C414.8,317.4 420.5,316.7 426.6,316.2 C432.7,315.7 439.2,315.4 444.9,315.7 C450.6,316.0 455.9,316.9 460.7,317.8 C465.5,318.7 470.0,319.8 473.7,320.9 C477.4,321.9 481.4,323.6 482.9,324.1 L482.9,324.1 C480.9,325.0 475.7,325.9 471.1,329.3 C466.5,332.7 459.8,340.4 455.4,344.5 C451.0,348.6 448.8,351.4 444.9,353.7 C441.0,356.0 436.2,357.1 431.9,358.1 C427.5,359.1 422.7,359.6 418.8,359.7 C414.9,359.8 413.1,359.9 408.3,358.9 C403.5,357.9 395.7,355.7 390.0,353.7 C384.3,351.7 379.5,349.3 374.3,347.1 C369.1,344.9 363.2,342.4 358.6,340.6 C354.0,338.8 348.8,336.9 346.8,336.1 Z" fill="url(#gFLS)" stroke="#5f5c8a" stroke-width="0.8" stroke-linejoin="miter"/>
<circle cx="418.0" cy="336.6" r="11" fill="url(#gFN)"/>
<path d="M353.8,383.8 C356.8,383.4 366.0,382.5 371.6,381.2 C377.2,379.9 381.7,378.2 387.4,375.9 C393.1,373.6 400.0,369.9 405.7,367.5 C411.4,365.1 416.2,363.1 421.4,361.5 C426.6,359.9 431.9,358.5 437.1,357.6 C442.3,356.7 448.0,356.4 452.8,356.3 C457.6,356.2 462.0,356.4 465.9,356.8 C469.8,357.2 472.7,357.8 476.4,358.6 C480.1,359.4 486.2,361.0 488.1,361.5 L488.1,361.5 C486.2,362.8 481.4,365.2 476.4,369.4 C471.4,373.6 462.8,382.4 458.0,386.9 C453.2,391.4 451.5,393.9 447.6,396.3 C443.7,398.7 438.9,400.0 434.5,401.0 C430.1,402.0 425.8,402.1 421.4,402.1 C417.0,402.1 413.5,401.8 408.3,400.8 C403.1,399.8 395.7,397.8 390.0,396.3 C384.3,394.8 379.1,393.2 374.3,391.6 C369.5,390.0 364.6,388.2 361.2,386.9 C357.8,385.6 355.0,384.3 353.8,383.8 Z" fill="url(#gFLS)" stroke="#5f5c8a" stroke-width="0.8" stroke-linejoin="miter"/>
<circle cx="423.5" cy="376.7" r="11" fill="url(#gFN)"/>
<path d="M629.9,335.0 C632.4,335.2 640.0,335.9 644.9,336.1 C649.8,336.3 654.7,336.5 659.3,336.1 C663.9,335.8 668.3,334.6 672.4,334.0 C676.5,333.4 679.8,331.7 684.1,332.4 C688.5,333.1 696.1,337.4 698.5,338.4 L698.5,338.4 C697.9,340.4 696.1,345.6 694.6,350.2 C693.1,354.8 691.6,360.7 689.4,365.9 C687.2,371.1 684.8,376.5 681.5,381.6 C678.2,386.8 671.7,394.3 669.7,396.8 L669.7,396.8 C667.5,396.1 660.9,394.0 656.6,392.6 C652.3,391.2 646.2,388.9 644.1,388.2 L644.1,388.2 C643.9,385.8 643.8,378.4 643.0,373.8 C642.2,369.2 641.0,365.3 639.6,360.7 C638.2,356.1 636.0,350.6 634.4,346.3 C632.8,342.0 630.6,336.9 629.9,335.0 Z" fill="#f9cd80" stroke="#6e5b3c" stroke-width="0.8" stroke-linejoin="round"/>
<clipPath id="cca"><path d="M629.9,335.0 C632.4,335.2 640.0,335.9 644.9,336.1 C649.8,336.3 654.7,336.5 659.3,336.1 C663.9,335.8 668.3,334.6 672.4,334.0 C676.5,333.4 679.8,331.7 684.1,332.4 C688.5,333.1 696.1,337.4 698.5,338.4 L698.5,338.4 C697.9,340.4 696.1,345.6 694.6,350.2 C693.1,354.8 691.6,360.7 689.4,365.9 C687.2,371.1 684.8,376.5 681.5,381.6 C678.2,386.8 671.7,394.3 669.7,396.8 L669.7,396.8 C667.5,396.1 660.9,394.0 656.6,392.6 C652.3,391.2 646.2,388.9 644.1,388.2 L644.1,388.2 C643.9,385.8 643.8,378.4 643.0,373.8 C642.2,369.2 641.0,365.3 639.6,360.7 C638.2,356.1 636.0,350.6 634.4,346.3 C632.8,342.0 630.6,336.9 629.9,335.0 Z"/></clipPath>
<path d="M720.0,307.0 C721.6,309.1 726.5,315.1 729.9,319.3 C733.3,323.5 736.9,327.2 740.4,332.4 C743.9,337.5 747.8,344.6 750.9,350.2 C754.0,355.8 757.9,363.3 759.3,365.9 L759.3,365.9 C757.9,367.3 754.5,372.0 750.9,374.3 C747.3,376.6 742.2,378.2 737.8,379.5 C733.4,380.8 729.1,381.8 724.7,382.1 C720.3,382.5 715.2,382.1 711.6,381.6 C708.0,381.1 704.6,379.4 703.2,379.0 L703.2,379.0 C702.2,376.6 699.5,369.5 697.2,364.6 C694.9,359.7 690.7,352.2 689.4,349.7 L689.4,349.7 C690.9,347.8 695.5,342.5 698.5,338.4 C701.5,334.3 705.0,329.4 707.7,325.3 C710.4,321.2 712.8,317.2 714.8,314.1 C716.8,311.1 719.1,308.2 720.0,307.0 Z" fill="#f9cd80" stroke="#6e5b3c" stroke-width="0.8" stroke-linejoin="round"/>
<clipPath id="ccb"><path d="M720.0,307.0 C721.6,309.1 726.5,315.1 729.9,319.3 C733.3,323.5 736.9,327.2 740.4,332.4 C743.9,337.5 747.8,344.6 750.9,350.2 C754.0,355.8 757.9,363.3 759.3,365.9 L759.3,365.9 C757.9,367.3 754.5,372.0 750.9,374.3 C747.3,376.6 742.2,378.2 737.8,379.5 C733.4,380.8 729.1,381.8 724.7,382.1 C720.3,382.5 715.2,382.1 711.6,381.6 C708.0,381.1 704.6,379.4 703.2,379.0 L703.2,379.0 C702.2,376.6 699.5,369.5 697.2,364.6 C694.9,359.7 690.7,352.2 689.4,349.7 L689.4,349.7 C690.9,347.8 695.5,342.5 698.5,338.4 C701.5,334.3 705.0,329.4 707.7,325.3 C710.4,321.2 712.8,317.2 714.8,314.1 C716.8,311.1 719.1,308.2 720.0,307.0 Z"/></clipPath>
<ellipse cx="664.0" cy="362.0" rx="17" ry="19" fill="#fbd998" opacity="0.8" transform="rotate(25 664.0 362.0)"/>
<ellipse cx="720.8" cy="352.8" rx="19" ry="17" fill="#fbd998" opacity="0.8"/>
<path d="M647.5,368.5 C648.6,370.5 651.0,377.7 654.0,380.3 C657.0,382.9 661.6,385.1 665.8,384.2 C669.9,383.3 675.8,379.0 678.9,375.1 C682.0,371.2 683.2,363.1 684.1,360.7" fill="none" stroke="#f4b961" stroke-width="1.6" opacity="0.9"/>
<path d="M703.8,363.3 C705.1,364.4 707.7,368.7 711.6,369.8 C715.5,370.9 722.1,370.7 727.3,369.8 C732.5,368.9 739.5,366.8 743.0,364.6 C746.5,362.4 747.4,358.1 748.3,356.8" fill="none" stroke="#f4b961" stroke-width="1.6" opacity="0.9"/>
<path d="M647.5,355.4 C648.1,353.9 649.4,348.7 651.4,346.3 C653.4,343.9 658.0,341.9 659.3,341.0" fill="none" stroke="#fde9bf" stroke-width="1.6"/>
<path d="M711.6,335.8 C713.1,334.9 717.5,331.0 720.8,330.6 C724.1,330.2 729.5,332.8 731.3,333.2" fill="none" stroke="#fde9bf" stroke-width="1.6"/>
<path d="M662.7,352.8 C665.3,352.8 669.2,353.6 671.0,355.4 C672.8,357.1 673.9,360.6 673.7,363.3 C673.5,366.0 671.7,369.7 669.7,371.7 C667.7,373.7 664.5,375.2 661.9,375.1 C659.3,375.0 655.7,373.2 654.0,371.2 C652.3,369.1 651.7,365.4 651.9,362.8 C652.1,360.2 653.5,357.1 655.3,355.4 C657.1,353.7 660.1,352.8 662.7,352.8 Z" fill="url(#gCN)"/>
<path d="M719.0,341.3 C721.6,341.4 726.0,342.6 727.9,344.5 C729.8,346.4 730.7,350.1 730.5,352.8 C730.3,355.5 728.7,358.9 726.8,360.7 C724.9,362.4 721.6,363.5 719.0,363.3 C716.4,363.1 712.8,361.5 711.1,359.4 C709.4,357.3 708.8,353.3 709.0,350.7 C709.2,348.1 710.4,345.3 712.1,343.7 C713.8,342.1 716.4,341.2 719.0,341.3 Z" fill="url(#gCN)"/>
<path d="M654.6,358.6 C655.2,358.0 656.6,355.7 658.0,354.9 C659.4,354.1 662.3,354.1 663.2,353.9" fill="none" stroke="#6f7fd0" stroke-width="1.1" opacity="0.9"/>
<path d="M711.6,348.1 C712.1,347.4 713.3,344.6 714.8,343.7 C716.3,342.8 719.8,342.6 720.8,342.4" fill="none" stroke="#6f7fd0" stroke-width="1.1" opacity="0.9"/>
<circle cx="653.2" cy="358.6" r="1.3" fill="#fff"/>
<circle cx="717.4" cy="341.8" r="1.3" fill="#fff"/>
</g>
<!-- ===== RIGHT PANEL ===== -->
<defs>
  <linearGradient id="gCone" gradientUnits="userSpaceOnUse" x1="781" y1="0" x2="893" y2="0">
    <stop offset="0" stop-color="#ffffff" stop-opacity="0.95"/>
    <stop offset="0.45" stop-color="#f2f2f2" stop-opacity="0.8"/>
    <stop offset="0.8" stop-color="#ffffff" stop-opacity="0.45"/>
    <stop offset="1" stop-color="#ffffff" stop-opacity="0.25"/>
  </linearGradient>
  <linearGradient id="gConeBg" gradientUnits="userSpaceOnUse" x1="781" y1="0" x2="860" y2="0">
    <stop offset="0" stop-color="#fbfbfb"/>
    <stop offset="0.15" stop-color="#f1f1f1"/>
    <stop offset="0.4" stop-color="#efefef"/>
    <stop offset="0.8" stop-color="#fafafa"/>
    <stop offset="1" stop-color="#ffffff"/>
  </linearGradient>
  <linearGradient id="gBeam" gradientUnits="userSpaceOnUse" x1="0" y1="140" x2="0" y2="250">
    <stop offset="0" stop-color="#ff2a00"/>
    <stop offset="0.15" stop-color="#ff4a00"/>
    <stop offset="0.35" stop-color="#ff7e00"/>
    <stop offset="0.55" stop-color="#ffa800"/>
    <stop offset="0.72" stop-color="#ffc400"/>
    <stop offset="0.84" stop-color="#ffd54a"/>
    <stop offset="1" stop-color="#ffe08a"/>
  </linearGradient>
  <linearGradient id="gBeamT" gradientUnits="userSpaceOnUse" x1="0" y1="180" x2="0" y2="250">
    <stop offset="0" stop-color="#ffb400" stop-opacity="0.8"/>
    <stop offset="0.6" stop-color="#fba000" stop-opacity="0.78"/>
    <stop offset="0.8" stop-color="#ee8a18" stop-opacity="0.55"/>
    <stop offset="1" stop-color="#dc7020" stop-opacity="0.3"/>
  </linearGradient>
  <radialGradient id="gGlow" cx="0.5" cy="0.5" r="0.5">
    <stop offset="0" stop-color="#e6e684"/>
    <stop offset="0.24" stop-color="#d9d670"/>
    <stop offset="0.36" stop-color="#e2bba6" stop-opacity="0.75"/>
    <stop offset="1" stop-color="#e0a898" stop-opacity="0"/>
  </radialGradient>
  <radialGradient id="gCellGlow" cx="0.5" cy="0.5" r="0.5">
    <stop offset="0" stop-color="#ffd9a0" stop-opacity="0.9"/>
    <stop offset="0.7" stop-color="#ffbf80" stop-opacity="0.6"/>
    <stop offset="1" stop-color="#ffb070" stop-opacity="0"/>
  </radialGradient>
  <clipPath id="clipBoneU"><path d="M961.0,-12.0 C960.6,-10.2 959.9,-6.5 958.6,-1.0 C957.3,4.5 955.1,13.6 953.4,21.0 C951.7,28.4 949.9,35.8 948.2,43.2 C946.5,50.6 944.8,57.8 943.0,65.4 C941.2,73.0 939.1,81.2 937.7,89.0 C936.3,96.8 935.5,105.0 934.5,112.0 C933.5,119.0 932.5,124.8 932.0,131.0 C931.5,137.2 931.3,142.8 931.3,149.3 C931.3,155.8 931.4,164.2 931.8,170.0 C932.1,175.8 932.3,179.5 933.4,184.2 C934.5,188.9 935.8,193.7 938.3,198.4 C940.8,203.1 944.2,208.3 948.2,212.6 C952.2,216.8 956.7,220.8 962.4,223.9 C968.1,227.0 975.7,229.4 982.3,231.0 C988.9,232.6 995.8,233.3 1002.1,233.6 C1008.4,233.8 1015.0,233.1 1020.0,232.5 C1025.0,231.9 1027.3,230.9 1032.4,229.8 C1037.5,228.7 1044.6,226.8 1050.7,226.1 C1056.8,225.3 1062.5,224.8 1069.0,225.3 C1075.5,225.8 1082.9,228.3 1089.9,229.3 C1096.9,230.3 1104.6,231.0 1110.9,231.4 C1117.2,231.8 1123.2,231.7 1128.0,231.6 C1132.8,231.5 1136.2,231.3 1140.0,230.8 C1143.8,230.3 1146.4,229.8 1150.5,228.5 C1154.6,227.2 1160.1,225.5 1164.5,223.3 C1168.9,221.1 1172.9,218.5 1176.7,215.4 C1180.5,212.3 1184.3,208.7 1187.2,204.9 C1190.1,201.1 1192.4,196.8 1194.1,192.7 C1195.8,188.6 1196.8,184.9 1197.6,180.5 C1198.3,176.1 1198.5,171.2 1198.6,166.0 C1198.7,160.8 1198.7,155.1 1198.4,149.3 C1198.1,143.5 1197.7,137.2 1197.0,131.0 C1196.3,124.8 1195.3,118.1 1194.4,112.0 C1193.5,105.9 1192.9,101.1 1191.8,94.2 C1190.7,87.3 1189.3,78.1 1187.8,70.7 C1186.3,63.3 1184.5,57.1 1182.6,49.7 C1180.7,42.3 1178.9,34.6 1176.6,26.2 C1174.3,17.8 1170.5,5.4 1168.7,-1.0 C1166.9,-7.4 1166.5,-10.2 1166.0,-12.0 Z"/></clipPath>
</defs>
<g id="right">
<path d="M781.2,0 L890.6,256.6 L781.2,448.6 Z" fill="url(#gConeBg)"/>
<path d="M948.2,43.2 C944.9,45.2 934.8,50.0 928.5,55.0 C922.2,60.0 915.4,67.2 910.2,73.3 C905.0,79.4 901.4,85.0 897.1,91.6 C892.8,98.2 888.6,106.1 884.5,113.0 C880.4,119.9 875.9,126.0 872.3,133.0 C868.7,140.0 865.5,147.5 863.1,155.0 C860.7,162.5 859.2,169.9 857.9,178.1 C856.6,186.3 855.7,196.4 855.2,204.2 C854.7,212.0 854.5,218.0 854.7,225.0 C854.9,232.0 855.1,237.4 856.5,246.2 C857.9,255.0 860.2,267.6 863.1,277.6 C866.0,287.6 870.4,297.7 874.0,306.4 C877.6,315.1 881.1,322.8 885.0,330.0 C888.9,337.2 892.2,342.1 897.6,349.6 C903.0,357.1 909.9,366.2 917.1,374.8 C924.3,383.4 936.9,396.9 940.9,401.3 L1173.7,408.0 C1176.5,405.3 1185.8,396.8 1190.7,391.8 C1195.6,386.8 1198.8,382.8 1203.0,378.0 C1207.2,373.2 1211.7,368.0 1215.6,362.8 C1219.5,357.6 1223.0,352.5 1226.5,347.0 C1230.0,341.5 1232.7,338.0 1236.4,329.6 C1240.1,321.2 1245.7,307.5 1248.8,296.4 C1251.9,285.3 1253.8,272.3 1255.1,263.2 C1256.4,254.1 1256.3,247.9 1256.6,242.0 C1256.9,236.1 1257.1,233.7 1257.0,228.0 C1256.9,222.3 1257.0,215.1 1256.2,208.0 C1255.5,200.9 1254.9,194.4 1252.5,185.6 C1250.1,176.8 1246.4,165.2 1242.0,155.0 C1237.6,144.8 1231.4,133.7 1226.0,124.5 C1220.6,115.3 1213.8,106.6 1209.5,100.0 C1205.2,93.4 1203.6,89.9 1200.0,85.0 C1196.4,80.1 1189.8,73.1 1187.8,70.7 Z" fill="#dbd4df" stroke="#2b2b2b" stroke-width="0.9"/>
<path d="M948.2,43.2 C946.1,45.1 939.7,50.4 935.9,54.5 C932.0,58.6 928.5,63.2 925.0,67.7 C921.4,72.2 918.0,76.9 914.4,81.5 C910.8,86.2 906.8,90.7 903.3,95.4 C899.8,100.2 896.7,105.2 893.4,110.1 C890.1,115.1 886.7,120.0 883.7,125.0 C880.6,130.1 877.7,135.3 875.1,140.6 C872.5,145.9 870.0,151.4 868.2,157.0 C866.4,162.7 865.1,168.5 864.0,174.4 C863.0,180.2 862.3,186.1 861.7,192.0 C861.1,197.9 860.6,203.9 860.4,209.8 C860.1,215.7 860.0,221.7 860.2,227.6 C860.4,233.5 860.9,239.5 861.7,245.4 C862.6,251.3 864.0,257.1 865.3,262.9 C866.6,268.7 867.8,274.5 869.5,280.2 C871.3,285.8 873.6,291.3 875.8,296.9 C878.0,302.4 880.4,307.8 882.8,313.2 C885.3,318.6 887.7,324.1 890.6,329.3 C893.6,334.4 897.1,339.2 900.6,344.0 C904.1,348.8 908.1,353.2 911.6,358.0 C915.0,362.8 918.1,367.7 921.4,372.6 C924.6,377.4 927.9,382.2 931.1,386.9 C934.4,391.7 939.3,398.9 940.9,401.3" fill="none" stroke="#c9c0d0" stroke-width="0.8"/>
<path d="M1187.8,70.7 C1189.2,72.9 1193.6,79.5 1196.3,84.1 C1198.9,88.7 1201.1,93.7 1203.6,98.4 C1206.0,103.1 1208.3,108.0 1211.2,112.6 C1214.0,117.2 1217.6,121.4 1220.5,126.0 C1223.3,130.6 1225.7,135.6 1228.2,140.4 C1230.8,145.2 1233.6,149.9 1235.8,154.9 C1238.0,159.8 1239.6,165.1 1241.4,170.2 C1243.3,175.3 1245.4,180.4 1246.8,185.6 C1248.2,190.9 1248.9,196.3 1249.7,201.7 C1250.4,207.1 1251.0,212.5 1251.3,217.9 C1251.6,223.4 1251.7,228.8 1251.5,234.3 C1251.4,239.7 1251.0,245.2 1250.6,250.6 C1250.2,256.0 1249.7,261.5 1248.9,266.8 C1248.1,272.2 1246.9,277.6 1245.7,282.9 C1244.6,288.2 1243.6,293.6 1242.1,298.8 C1240.5,304.0 1238.2,309.0 1236.3,314.1 C1234.3,319.1 1232.6,324.3 1230.2,329.2 C1227.9,334.2 1225.1,338.9 1222.3,343.5 C1219.4,348.1 1216.4,352.7 1213.2,357.1 C1209.9,361.4 1206.1,365.4 1202.8,369.7 C1199.6,374.0 1196.7,378.5 1193.6,382.9 C1190.4,387.2 1187.1,391.4 1183.8,395.6 C1180.5,399.8 1175.4,405.9 1173.7,408.0" fill="none" stroke="#c9c0d0" stroke-width="0.8"/>
<path d="M948.2,43.2 C946.6,45.4 941.7,51.8 938.8,56.4 C935.8,61.0 933.2,66.0 930.3,70.8 C927.3,75.6 924.6,80.6 921.2,85.2 C917.7,89.8 913.2,93.8 909.5,98.3 C905.8,102.8 902.3,107.5 898.9,112.2 C895.4,116.9 891.9,121.7 888.8,126.6 C885.6,131.5 882.7,136.6 880.1,141.9 C877.4,147.1 875.0,152.5 873.1,158.0 C871.3,163.6 869.9,169.4 868.8,175.1 C867.7,180.9 867.1,186.8 866.5,192.6 C865.9,198.4 865.5,204.3 865.3,210.2 C865.0,216.0 864.9,221.9 865.1,227.8 C865.4,233.7 865.8,239.6 866.7,245.4 C867.5,251.2 868.8,256.9 870.1,262.7 C871.4,268.4 872.7,274.1 874.4,279.7 C876.1,285.3 878.3,290.8 880.5,296.3 C882.8,301.7 885.2,307.1 887.7,312.4 C890.2,317.7 892.5,323.1 895.5,328.1 C898.6,333.2 902.1,337.9 905.7,342.6 C909.3,347.2 913.7,351.3 917.0,356.0 C920.3,360.7 922.9,365.8 925.6,370.8 C928.3,375.9 930.7,381.0 933.2,386.1 C935.8,391.2 939.6,398.8 940.9,401.3" fill="none" stroke="#c9c0d0" stroke-width="0.8"/>
<path d="M1187.8,70.7 C1188.9,73.1 1192.2,80.0 1194.2,84.9 C1196.2,89.7 1197.8,94.7 1199.7,99.6 C1201.7,104.5 1203.3,109.5 1205.9,114.1 C1208.5,118.7 1212.4,122.7 1215.3,127.2 C1218.1,131.8 1220.6,136.6 1223.1,141.3 C1225.7,146.1 1228.4,150.7 1230.6,155.6 C1232.8,160.5 1234.4,165.7 1236.3,170.7 C1238.1,175.8 1240.2,180.8 1241.6,186.0 C1243.0,191.1 1243.9,196.5 1244.6,201.8 C1245.4,207.1 1246.0,212.5 1246.3,217.8 C1246.7,223.2 1246.8,228.6 1246.7,234.0 C1246.6,239.3 1246.1,244.7 1245.7,250.1 C1245.2,255.4 1244.8,260.8 1244.0,266.1 C1243.1,271.4 1241.8,276.7 1240.7,281.9 C1239.5,287.2 1238.7,292.5 1237.1,297.7 C1235.5,302.8 1233.2,307.7 1231.2,312.7 C1229.3,317.7 1227.5,322.8 1225.2,327.7 C1222.9,332.5 1220.2,337.2 1217.4,341.8 C1214.7,346.4 1211.8,351.0 1208.6,355.3 C1205.3,359.5 1201.2,363.1 1198.1,367.5 C1195.1,371.8 1192.9,376.7 1190.3,381.3 C1187.6,385.8 1184.9,390.3 1182.1,394.8 C1179.4,399.2 1175.1,405.8 1173.7,408.0" fill="none" stroke="#c9c0d0" stroke-width="0.8"/>
<path d="M948.2,43.2 C947.1,45.7 943.8,53.2 941.7,58.3 C939.6,63.4 937.9,68.9 935.6,74.0 C933.3,79.0 931.2,84.3 927.9,88.8 C924.6,93.4 919.6,96.9 915.7,101.2 C911.8,105.4 908.0,109.8 904.3,114.3 C900.7,118.8 897.1,123.4 893.9,128.2 C890.6,133.0 887.7,138.0 885.0,143.1 C882.4,148.3 880.0,153.6 878.1,159.1 C876.1,164.5 874.7,170.2 873.5,175.9 C872.4,181.6 871.9,187.4 871.3,193.2 C870.8,199.0 870.4,204.8 870.2,210.6 C869.9,216.4 869.8,222.2 870.1,228.0 C870.3,233.8 870.8,239.6 871.6,245.4 C872.4,251.1 873.7,256.8 874.9,262.5 C876.2,268.1 877.6,273.8 879.3,279.3 C881.0,284.9 883.1,290.3 885.3,295.7 C887.5,301.1 890.0,306.3 892.5,311.5 C895.0,316.8 897.4,322.1 900.5,327.0 C903.5,332.0 907.2,336.6 910.8,341.1 C914.5,345.6 919.2,349.4 922.4,354.0 C925.5,358.7 927.6,363.9 929.8,369.1 C931.9,374.3 933.5,379.9 935.3,385.2 C937.2,390.6 940.0,398.6 940.9,401.3" fill="none" stroke="#c9c0d0" stroke-width="0.8"/>
<path d="M1187.8,70.7 C1188.5,73.2 1190.7,80.6 1192.1,85.6 C1193.4,90.6 1194.5,95.8 1195.9,100.8 C1197.4,105.8 1198.3,111.0 1200.6,115.6 C1203.0,120.2 1207.2,124.0 1210.1,128.5 C1213.0,132.9 1215.4,137.6 1218.0,142.3 C1220.5,147.0 1223.1,151.6 1225.3,156.4 C1227.5,161.3 1229.3,166.3 1231.1,171.3 C1233.0,176.3 1235.0,181.2 1236.4,186.3 C1237.9,191.4 1238.8,196.7 1239.6,201.9 C1240.4,207.1 1241.0,212.4 1241.4,217.7 C1241.8,223.0 1241.9,228.4 1241.8,233.7 C1241.7,239.0 1241.2,244.3 1240.7,249.6 C1240.2,254.8 1239.9,260.2 1239.0,265.4 C1238.2,270.6 1236.8,275.8 1235.6,281.0 C1234.5,286.2 1233.7,291.5 1232.1,296.5 C1230.5,301.6 1228.2,306.4 1226.2,311.4 C1224.3,316.3 1222.5,321.3 1220.2,326.1 C1218.0,330.9 1215.3,335.6 1212.6,340.1 C1209.9,344.7 1207.1,349.2 1203.9,353.4 C1200.7,357.6 1196.2,360.9 1193.4,365.3 C1190.6,369.7 1189.1,374.9 1187.0,379.7 C1184.8,384.4 1182.6,389.2 1180.4,393.9 C1178.2,398.6 1174.8,405.6 1173.7,408.0" fill="none" stroke="#c9c0d0" stroke-width="0.8"/>
<path d="M937.7,89.0 C935.7,90.8 929.7,96.0 925.9,99.5 C922.1,103.0 918.5,106.4 915.0,110.0 C911.5,113.6 908.4,116.8 905.0,121.0 C901.6,125.2 898.0,129.3 894.5,135.0 C891.0,140.7 886.8,147.8 884.0,155.0 C881.2,162.2 879.0,170.2 877.5,178.0 C876.0,185.8 875.4,193.8 874.9,201.6 C874.4,209.4 874.1,217.6 874.3,225.0 C874.5,232.4 875.0,238.3 876.2,246.2 C877.4,254.1 878.8,263.2 881.4,272.4 C884.0,281.6 888.0,292.3 891.9,301.2 C895.8,310.1 900.3,318.6 905.0,326.0 C909.7,333.4 915.5,340.4 919.9,345.4 C924.2,350.3 929.2,354.0 931.1,355.7 L1189.5,362.0 C1191.4,360.1 1197.1,355.7 1201.1,350.3 C1205.1,344.9 1209.2,338.6 1213.6,329.6 C1218.0,320.6 1223.8,307.5 1227.3,296.4 C1230.8,285.3 1233.1,273.3 1234.8,263.2 C1236.5,253.1 1237.1,244.0 1237.4,236.0 C1237.7,228.0 1237.5,222.4 1236.8,215.0 C1236.1,207.6 1235.9,200.7 1233.5,191.7 C1231.1,182.7 1226.8,170.9 1222.6,161.2 C1218.4,151.5 1213.0,141.3 1208.3,133.6 C1203.6,125.9 1196.7,118.3 1194.4,115.2 Z" fill="#e99393" stroke="#2b2b2b" stroke-width="0.9"/>
<path d="M932.2,181.3 C930.5,181.8 924.8,183.1 922.0,184.5 C919.2,185.9 916.9,187.6 915.6,189.9 C914.3,192.2 913.5,194.6 914.2,198.4 C914.9,202.2 917.8,208.3 919.9,212.6 C922.0,216.8 926.5,220.1 927.0,223.9 C927.5,227.7 924.6,231.4 922.7,235.2 C920.8,239.0 917.0,243.3 915.6,246.6 C914.2,249.9 913.7,251.8 914.2,255.1 C914.7,258.4 916.0,261.8 918.4,266.5 C920.8,271.2 925.3,278.8 928.4,283.5 C931.5,288.2 935.5,292.9 936.9,294.8 L960,300 L1190,330 L1192.8,327.5 C1194.5,325.1 1199.7,318.9 1203.2,313.0 C1206.7,307.1 1210.7,300.5 1213.6,292.2 C1216.5,283.9 1219.0,273.2 1220.6,263.2 C1222.2,253.2 1223.0,239.8 1223.0,232.0 C1223.0,224.2 1221.8,223.4 1220.6,216.2 C1219.4,209.0 1218.0,197.4 1216.0,188.7 C1214.0,180.0 1211.2,171.8 1208.3,164.2 C1205.4,156.5 1200.2,146.4 1198.6,142.8 L1190,150 L1000,180 Z" fill="#a14c4d"/>
<path d="M932.2,181.3 C930.5,181.8 924.8,183.1 922.0,184.5 C919.2,185.9 916.9,187.6 915.6,189.9 C914.3,192.2 913.5,194.6 914.2,198.4 C914.9,202.2 917.8,208.3 919.9,212.6 C922.0,216.8 926.5,220.1 927.0,223.9 C927.5,227.7 924.6,231.4 922.7,235.2 C920.8,239.0 917.0,243.3 915.6,246.6 C914.2,249.9 913.7,251.8 914.2,255.1 C914.7,258.4 916.0,261.8 918.4,266.5 C920.8,271.2 925.3,278.8 928.4,283.5 C931.5,288.2 935.5,292.9 936.9,294.8" fill="none" stroke="#f7dcd6" stroke-width="0.9"/>
<path d="M1198.6,142.8 C1200.2,146.4 1205.4,156.5 1208.3,164.2 C1211.2,171.8 1214.0,180.0 1216.0,188.7 C1218.0,197.4 1219.4,209.0 1220.6,216.2 C1221.8,223.4 1223.0,224.2 1223.0,232.0 C1223.0,239.8 1222.2,253.2 1220.6,263.2 C1219.0,273.2 1216.5,283.9 1213.6,292.2 C1210.7,300.5 1206.7,307.1 1203.2,313.0 C1199.7,318.9 1194.5,325.1 1192.8,327.5" fill="none" stroke="#f7dcd6" stroke-width="0.9"/>
<path d="M1060.0,226.0 C1061.5,226.1 1065.7,226.0 1069.0,226.8 C1072.3,227.6 1076.5,229.6 1080.0,231.0 C1083.5,232.4 1085.6,233.6 1089.9,235.0 C1094.2,236.4 1100.7,238.6 1105.7,239.7 C1110.7,240.8 1114.3,241.2 1120.0,241.5 C1125.7,241.8 1134.9,241.9 1140.0,241.3 C1145.1,240.7 1147.0,239.5 1150.5,238.1 C1154.0,236.7 1157.5,234.9 1161.0,232.9 C1164.5,230.9 1168.2,228.2 1171.4,225.9 C1174.6,223.6 1177.0,222.0 1180.2,218.9 C1183.4,215.8 1187.9,211.4 1190.7,207.6 C1193.5,203.8 1195.2,200.1 1196.8,196.2 C1198.4,192.3 1199.6,188.4 1200.3,184.0 C1201.0,179.6 1201.1,174.8 1201.1,170.0 C1201.0,165.2 1200.4,159.0 1200.0,155.0 C1199.6,151.0 1198.8,147.5 1198.5,146.0 L1150,180 L1060,200 Z" fill="#bcd7ef" stroke="#2b2b2b" stroke-width="0.9"/>
<path d="M1016.0,272.5 C1017.2,271.2 1020.3,266.8 1023.0,264.5 C1025.7,262.2 1029.1,259.6 1032.4,259.0 C1035.7,258.4 1039.8,260.0 1042.8,260.8 C1045.8,261.6 1048.1,264.0 1050.7,264.0 C1053.3,264.0 1055.5,261.8 1058.5,261.0 C1061.5,260.2 1064.6,259.1 1069.0,259.5 C1073.4,259.9 1079.5,262.3 1084.7,263.2 C1089.9,264.1 1094.7,265.4 1100.4,265.0 C1106.1,264.6 1112.1,262.2 1118.7,261.0 C1125.3,259.8 1133.0,258.7 1140.0,258.0 C1147.0,257.3 1154.4,256.6 1160.4,256.6 C1166.4,256.6 1171.7,255.8 1176.0,258.0 C1180.3,260.2 1183.8,264.7 1186.5,269.7 C1189.2,274.7 1191.1,282.0 1192.3,288.1 C1193.5,294.2 1193.9,300.1 1193.9,306.4 C1194.0,312.7 1192.8,322.7 1192.6,326.0 L1150,300 L1016,290 Z" fill="#bcd7ef" stroke="#2b2b2b" stroke-width="0.9"/>
<path d="M961.0,-12.0 C960.6,-10.2 959.9,-6.5 958.6,-1.0 C957.3,4.5 955.1,13.6 953.4,21.0 C951.7,28.4 949.9,35.8 948.2,43.2 C946.5,50.6 944.8,57.8 943.0,65.4 C941.2,73.0 939.1,81.2 937.7,89.0 C936.3,96.8 935.5,105.0 934.5,112.0 C933.5,119.0 932.5,124.8 932.0,131.0 C931.5,137.2 931.3,142.8 931.3,149.3 C931.3,155.8 931.4,164.2 931.8,170.0 C932.1,175.8 932.3,179.5 933.4,184.2 C934.5,188.9 935.8,193.7 938.3,198.4 C940.8,203.1 944.2,208.3 948.2,212.6 C952.2,216.8 956.7,220.8 962.4,223.9 C968.1,227.0 975.7,229.4 982.3,231.0 C988.9,232.6 995.8,233.3 1002.1,233.6 C1008.4,233.8 1015.0,233.1 1020.0,232.5 C1025.0,231.9 1027.3,230.9 1032.4,229.8 C1037.5,228.7 1044.6,226.8 1050.7,226.1 C1056.8,225.3 1062.5,224.8 1069.0,225.3 C1075.5,225.8 1082.9,228.3 1089.9,229.3 C1096.9,230.3 1104.6,231.0 1110.9,231.4 C1117.2,231.8 1123.2,231.7 1128.0,231.6 C1132.8,231.5 1136.2,231.3 1140.0,230.8 C1143.8,230.3 1146.4,229.8 1150.5,228.5 C1154.6,227.2 1160.1,225.5 1164.5,223.3 C1168.9,221.1 1172.9,218.5 1176.7,215.4 C1180.5,212.3 1184.3,208.7 1187.2,204.9 C1190.1,201.1 1192.4,196.8 1194.1,192.7 C1195.8,188.6 1196.8,184.9 1197.6,180.5 C1198.3,176.1 1198.5,171.2 1198.6,166.0 C1198.7,160.8 1198.7,155.1 1198.4,149.3 C1198.1,143.5 1197.7,137.2 1197.0,131.0 C1196.3,124.8 1195.3,118.1 1194.4,112.0 C1193.5,105.9 1192.9,101.1 1191.8,94.2 C1190.7,87.3 1189.3,78.1 1187.8,70.7 C1186.3,63.3 1184.5,57.1 1182.6,49.7 C1180.7,42.3 1178.9,34.6 1176.6,26.2 C1174.3,17.8 1170.5,5.4 1168.7,-1.0 C1166.9,-7.4 1166.5,-10.2 1166.0,-12.0 Z" fill="#fef3dc" stroke="#1a1a1a" stroke-width="1"/>
<path d="M959.1,453.0 C957.5,448.8 952.3,436.5 949.3,427.9 C946.3,419.3 943.2,409.7 940.9,401.3 C938.6,392.9 936.9,385.3 935.3,377.6 C933.7,369.9 932.3,362.3 931.1,355.2 C929.9,348.1 928.3,340.9 928.3,335.0 C928.3,329.1 929.9,324.5 931.2,319.5 C932.5,314.5 934.6,309.1 936.0,305.0 C937.4,300.9 938.9,298.4 939.7,294.8 C940.6,291.2 940.2,286.1 941.1,283.5 C942.0,280.9 942.8,280.2 945.4,279.2 C948.0,278.1 953.4,278.1 956.7,277.2 C960.0,276.2 962.6,273.8 965.2,273.5 C967.8,273.2 969.7,274.8 972.3,275.5 C974.9,276.2 978.8,278.1 980.9,277.8 C983.0,277.5 983.9,274.6 985.1,273.5 C986.3,272.4 986.5,270.4 987.9,270.9 C989.3,271.4 991.7,274.9 993.6,276.4 C995.5,277.9 996.9,279.6 999.3,280.1 C1001.7,280.6 1004.5,280.7 1007.8,279.2 C1011.1,277.7 1015.2,273.6 1019.3,271.0 C1023.4,268.4 1028.5,264.7 1032.4,263.8 C1036.3,262.9 1039.8,265.1 1042.8,265.9 C1045.8,266.7 1048.1,268.5 1050.7,268.5 C1053.3,268.5 1055.5,266.5 1058.5,265.9 C1061.5,265.2 1064.6,264.2 1069.0,264.6 C1073.4,265.0 1079.5,267.6 1084.7,268.5 C1089.9,269.4 1094.7,270.0 1100.4,269.8 C1106.1,269.6 1113.1,267.7 1118.7,267.2 C1124.3,266.7 1127.2,267.1 1134.2,266.6 C1141.2,266.2 1153.4,264.2 1160.4,264.5 C1167.4,264.8 1172.1,265.8 1176.0,268.4 C1179.9,271.0 1181.9,275.2 1183.9,280.2 C1185.9,285.2 1186.6,291.9 1187.8,298.5 C1189.0,305.1 1190.4,313.4 1191.2,319.5 C1192.0,325.6 1192.5,330.4 1192.5,335.0 C1192.5,339.6 1191.9,342.1 1191.4,346.8 C1190.9,351.5 1190.8,356.3 1189.3,363.0 C1187.8,369.7 1185.2,379.5 1182.6,387.0 C1180.0,394.5 1177.3,401.0 1173.7,408.0 C1170.1,415.0 1165.5,421.5 1161.1,429.0 C1156.7,436.5 1149.5,449.0 1147.2,453.0 Z" fill="#fef3dc" stroke="#1a1a1a" stroke-width="1"/>
<rect x="940" y="452" width="240" height="8" fill="#ffffff"/>
<path d="M995.5,136.5 L897,243.5 L1088,249 Z" fill="url(#gBeamT)"/>
<path d="M930.5,184.0 C930.8,186.6 930.5,194.1 932.5,199.5 C934.5,204.9 938.2,211.5 942.5,216.5 C946.8,221.5 951.8,226.0 958.0,229.5 C964.2,233.0 972.7,235.8 980.0,237.5 C987.3,239.2 995.3,239.8 1002.0,240.0 C1008.7,240.2 1014.7,239.6 1020.0,238.8 C1025.3,238.1 1028.8,236.8 1034.0,235.5 C1039.2,234.2 1045.2,232.2 1051.0,231.2 C1056.8,230.2 1066.0,229.9 1069.0,229.6 L1069,215 L960,200 Z" fill="#f3e08a" stroke="#3a3214" stroke-width="0.8"/>
<path d="M961.0,-12.0 C960.6,-10.2 959.9,-6.5 958.6,-1.0 C957.3,4.5 955.1,13.6 953.4,21.0 C951.7,28.4 949.9,35.8 948.2,43.2 C946.5,50.6 944.8,57.8 943.0,65.4 C941.2,73.0 939.1,81.2 937.7,89.0 C936.3,96.8 935.5,105.0 934.5,112.0 C933.5,119.0 932.5,124.8 932.0,131.0 C931.5,137.2 931.3,142.8 931.3,149.3 C931.3,155.8 931.4,164.2 931.8,170.0 C932.1,175.8 932.3,179.5 933.4,184.2 C934.5,188.9 935.8,193.7 938.3,198.4 C940.8,203.1 944.2,208.3 948.2,212.6 C952.2,216.8 956.7,220.8 962.4,223.9 C968.1,227.0 975.7,229.4 982.3,231.0 C988.9,232.6 995.8,233.3 1002.1,233.6 C1008.4,233.8 1015.0,233.1 1020.0,232.5 C1025.0,231.9 1027.3,230.9 1032.4,229.8 C1037.5,228.7 1044.6,226.8 1050.7,226.1 C1056.8,225.3 1062.5,224.8 1069.0,225.3 C1075.5,225.8 1082.9,228.3 1089.9,229.3 C1096.9,230.3 1104.6,231.0 1110.9,231.4 C1117.2,231.8 1123.2,231.7 1128.0,231.6 C1132.8,231.5 1136.2,231.3 1140.0,230.8 C1143.8,230.3 1146.4,229.8 1150.5,228.5 C1154.6,227.2 1160.1,225.5 1164.5,223.3 C1168.9,221.1 1172.9,218.5 1176.7,215.4 C1180.5,212.3 1184.3,208.7 1187.2,204.9 C1190.1,201.1 1192.4,196.8 1194.1,192.7 C1195.8,188.6 1196.8,184.9 1197.6,180.5 C1198.3,176.1 1198.5,171.2 1198.6,166.0 C1198.7,160.8 1198.7,155.1 1198.4,149.3 C1198.1,143.5 1197.7,137.2 1197.0,131.0 C1196.3,124.8 1195.3,118.1 1194.4,112.0 C1193.5,105.9 1192.9,101.1 1191.8,94.2 C1190.7,87.3 1189.3,78.1 1187.8,70.7 C1186.3,63.3 1184.5,57.1 1182.6,49.7 C1180.7,42.3 1178.9,34.6 1176.6,26.2 C1174.3,17.8 1170.5,5.4 1168.7,-1.0 C1166.9,-7.4 1166.5,-10.2 1166.0,-12.0 Z" fill="#fef3dc"/>
<path d="M995.5,136.5 L897,243.5 L1088,249 Z" fill="url(#gBeam)" clip-path="url(#clipBoneU)"/>
<path d="M961.0,-12.0 C960.6,-10.2 959.9,-6.5 958.6,-1.0 C957.3,4.5 955.1,13.6 953.4,21.0 C951.7,28.4 949.9,35.8 948.2,43.2 C946.5,50.6 944.8,57.8 943.0,65.4 C941.2,73.0 939.1,81.2 937.7,89.0 C936.3,96.8 935.5,105.0 934.5,112.0 C933.5,119.0 932.5,124.8 932.0,131.0 C931.5,137.2 931.3,142.8 931.3,149.3 C931.3,155.8 931.4,164.2 931.8,170.0 C932.1,175.8 932.3,179.5 933.4,184.2 C934.5,188.9 935.8,193.7 938.3,198.4 C940.8,203.1 944.2,208.3 948.2,212.6 C952.2,216.8 956.7,220.8 962.4,223.9 C968.1,227.0 975.7,229.4 982.3,231.0 C988.9,232.6 995.8,233.3 1002.1,233.6 C1008.4,233.8 1015.0,233.1 1020.0,232.5 C1025.0,231.9 1027.3,230.9 1032.4,229.8 C1037.5,228.7 1044.6,226.8 1050.7,226.1 C1056.8,225.3 1062.5,224.8 1069.0,225.3 C1075.5,225.8 1082.9,228.3 1089.9,229.3 C1096.9,230.3 1104.6,231.0 1110.9,231.4 C1117.2,231.8 1123.2,231.7 1128.0,231.6 C1132.8,231.5 1136.2,231.3 1140.0,230.8 C1143.8,230.3 1146.4,229.8 1150.5,228.5 C1154.6,227.2 1160.1,225.5 1164.5,223.3 C1168.9,221.1 1172.9,218.5 1176.7,215.4 C1180.5,212.3 1184.3,208.7 1187.2,204.9 C1190.1,201.1 1192.4,196.8 1194.1,192.7 C1195.8,188.6 1196.8,184.9 1197.6,180.5 C1198.3,176.1 1198.5,171.2 1198.6,166.0 C1198.7,160.8 1198.7,155.1 1198.4,149.3 C1198.1,143.5 1197.7,137.2 1197.0,131.0 C1196.3,124.8 1195.3,118.1 1194.4,112.0 C1193.5,105.9 1192.9,101.1 1191.8,94.2 C1190.7,87.3 1189.3,78.1 1187.8,70.7 C1186.3,63.3 1184.5,57.1 1182.6,49.7 C1180.7,42.3 1178.9,34.6 1176.6,26.2 C1174.3,17.8 1170.5,5.4 1168.7,-1.0 C1166.9,-7.4 1166.5,-10.2 1166.0,-12.0" fill="none" stroke="#1a1a1a" stroke-width="1"/>
<path d="M931.0,176.0 C931.3,177.4 931.4,180.5 932.6,184.2 C933.8,187.9 935.7,193.7 938.3,198.4 C940.9,203.1 944.2,208.3 948.2,212.6 C952.2,216.8 956.7,220.8 962.4,223.9 C968.1,227.0 975.7,229.4 982.3,231.0 C988.9,232.6 995.8,233.3 1002.1,233.6 C1008.4,233.8 1015.0,233.1 1020.0,232.5 C1025.0,231.9 1027.3,230.9 1032.4,229.8 C1037.5,228.7 1044.6,226.8 1050.7,226.1 C1056.8,225.3 1066.0,225.4 1069.0,225.3" fill="none" stroke="#3a3214" stroke-width="0.8" opacity="0.8"/>
<path d="M781.2,0 L890.6,256.6 L781.2,448.6 Z" fill="url(#gCone)" opacity="0.55"/>
<path d="M781.2,0 L890.6,256.6 L781.2,448.6" fill="none" stroke="#4d4d4d" stroke-width="0.8"/>
<line x1="1068.8" y1="-12.05" x2="1068.8" y2="452" stroke="#c4c4c4" stroke-width="3.8" stroke-dasharray="12.3 4.45"/>
<circle cx="996.5" cy="135.1" r="10.5" fill="#ff1a00"/>
<path d="M996.5,114.6 L999.2,122.1 L993.8,122.1 Z" fill="#ff1a00"/>
<path d="M1011.0,120.6 L1007.6,127.8 L1003.8,124.0 Z" fill="#ff1a00"/>
<path d="M1017.0,135.1 L1009.5,137.8 L1009.5,132.4 Z" fill="#ff1a00"/>
<path d="M1011.0,149.6 L1003.8,146.2 L1007.6,142.4 Z" fill="#ff1a00"/>
<path d="M996.5,158.6 L993.1,149.1 L999.9,149.1 Z" fill="#fff4e6" stroke="#ff3a10" stroke-width="0.9"/>
<path d="M982.0,149.6 L985.4,142.4 L989.2,146.2 Z" fill="#ff1a00"/>
<path d="M976.0,135.1 L983.5,132.4 L983.5,137.8 Z" fill="#ff1a00"/>
<path d="M982.0,120.6 L989.2,124.0 L985.4,127.8 Z" fill="#ff1a00"/>
<line x1="930.6" y1="208.3" x2="938.3" y2="220.5" stroke="#1c97d8" stroke-width="3.1" stroke-linecap="butt"/>
<circle cx="938.3" cy="220.5" r="1.6" fill="#14223a"/>
<line x1="933.5" y1="246.6" x2="946.8" y2="247.4" stroke="#1c97d8" stroke-width="3.1" stroke-linecap="butt"/>
<circle cx="946.8" cy="247.4" r="1.6" fill="#14223a"/>
<line x1="997.9" y1="246.0" x2="990.2" y2="256.5" stroke="#1c97d8" stroke-width="3.1" stroke-linecap="butt"/>
<circle cx="990.2" cy="256.5" r="1.6" fill="#14223a"/>
<line x1="1025.0" y1="243.5" x2="1037.8" y2="247.1" stroke="#1c97d8" stroke-width="3.1" stroke-linecap="butt"/>
<circle cx="1037.8" cy="247.1" r="1.6" fill="#14223a"/>
<circle cx="946.0" cy="254.3" r="7" fill="url(#gGlow)"/>
<circle cx="985.1" cy="247.2" r="7" fill="url(#gGlow)"/>
<circle cx="1005.0" cy="269.3" r="7" fill="url(#gGlow)"/>
<circle cx="1042.3" cy="247.1" r="7" fill="url(#gGlow)"/>
<circle cx="905" cy="280.5" r="15" fill="url(#gCellGlow)"/>
<path d="M903.7,265.0 C906.3,265.0 910.5,266.1 912.8,268.4 C915.1,270.7 917.1,275.5 917.5,278.9 C917.9,282.3 916.8,285.8 915.4,288.6 C914.0,291.4 911.5,294.9 908.9,295.9 C906.3,296.9 902.2,296.0 899.7,294.6 C897.2,293.2 895.1,290.6 894.0,287.5 C892.9,284.4 892.7,279.5 893.2,276.3 C893.7,273.1 895.4,270.3 897.1,268.4 C898.9,266.5 901.1,265.0 903.7,265.0 Z" fill="#ee9f8c" stroke="#ffb35e" stroke-width="1.6"/>
<path d="M903.5,262.2 C906.6,262.2 911.5,263.5 914.2,266.2 C916.9,269.0 919.2,274.6 919.8,278.6 C920.3,282.6 919.0,286.7 917.3,290.1 C915.6,293.4 912.7,297.5 909.6,298.7 C906.5,299.9 901.7,298.8 898.7,297.1 C895.8,295.5 893.3,292.4 892.0,288.8 C890.7,285.2 890.5,279.3 891.1,275.5 C891.7,271.8 893.6,268.4 895.7,266.2 C897.7,264.0 900.4,262.2 903.5,262.2 Z" fill="none" stroke="#ffe3c4" stroke-width="0.7" stroke-dasharray="1.2 1.2"/>
<path d="M905.0,269.2 C906.8,269.4 910.2,271.6 911.5,273.7 C912.8,275.8 913.4,279.3 912.8,281.5 C912.2,283.7 909.8,286.2 908.1,286.8 C906.4,287.4 903.8,286.7 902.4,285.4 C901.0,284.1 899.9,281.1 899.7,278.9 C899.5,276.7 900.1,274.0 901.0,272.4 C901.9,270.8 903.2,269.0 905.0,269.2 Z" fill="#dccfe2"/>
<path d="M901.8,269.7 C902.8,269.0 905.7,269.9 906.3,271.0 C906.9,272.1 906.1,274.9 905.5,276.3 C904.9,277.8 903.3,279.9 902.4,279.7 C901.5,279.5 900.4,276.7 900.3,275.0 C900.2,273.3 900.8,270.4 901.8,269.7 Z" fill="#ffffff" opacity="0.9"/>
<path d="M924.1,271.0 C925.3,270.6 928.3,278.7 929.8,282.8 C931.3,286.9 932.8,291.3 933.2,295.9 C933.6,300.5 932.9,304.9 932.2,310.3 C931.6,315.8 930.5,328.0 929.3,328.6 C928.1,329.2 926.1,319.2 925.1,314.2 C924.1,309.2 923.7,303.3 923.3,298.5 C922.9,293.7 922.4,290.0 922.5,285.4 C922.6,280.8 922.9,271.4 924.1,271.0 Z" fill="#ec9a86" stroke="#ffb870" stroke-width="1.2" opacity="0.95"/>
<circle cx="927.2" cy="299.8" r="3.2" fill="#bfe4f2"/>
<circle cx="927.2" cy="299.8" r="1.4" fill="#ffffff"/>
<path d="M937.9,298.0 C941.0,297.6 947.5,302.7 951.8,305.7 C956.1,308.6 962.9,312.5 963.9,315.7 C965.0,318.8 961.6,322.0 958.1,324.5 C954.6,327.1 947.1,331.1 942.9,330.9 C938.8,330.7 935.2,325.5 932.9,323.3 C930.6,321.1 929.0,320.0 929.1,317.5 C929.2,315.0 932.1,311.4 933.6,308.2 C935.1,304.9 934.9,298.5 937.9,298.0 Z" fill="#fdddaa" stroke="#fee9c8" stroke-width="2.6" opacity="0.92"/>
<path d="M938.6,300.0 C941.3,299.6 947.1,304.1 951.0,306.8 C954.8,309.4 960.9,312.9 961.8,315.7 C962.7,318.5 959.7,321.4 956.6,323.6 C953.4,325.9 946.8,329.5 943.1,329.3 C939.3,329.1 936.2,324.5 934.1,322.5 C932.0,320.5 930.6,319.6 930.7,317.3 C930.8,315.1 933.4,311.9 934.7,309.0 C936.0,306.1 935.9,300.3 938.6,300.0 Z" fill="#fbcf85" stroke="#f8b55a" stroke-width="0.8"/>
<path d="M940.1,304.5 C942.0,304.2 946.2,307.5 949.0,309.4 C951.8,311.2 956.1,313.8 956.8,315.8 C957.5,317.8 955.3,319.9 953.0,321.5 C950.8,323.1 946.0,325.7 943.3,325.6 C940.6,325.4 938.4,322.1 936.9,320.7 C935.4,319.2 934.3,318.6 934.4,317.0 C934.5,315.3 936.4,313.0 937.3,311.0 C938.3,308.9 938.1,304.7 940.1,304.5 Z" fill="none" stroke="#fde2b0" stroke-width="0.9"/>
<path d="M941.4,312.5 C942.5,312.2 944.8,312.9 945.6,313.8 C946.5,314.7 946.9,316.7 946.5,317.9 C946.2,319.0 944.6,320.4 943.5,320.7 C942.3,320.9 940.5,320.2 939.6,319.4 C938.8,318.5 938.3,316.7 938.6,315.5 C938.9,314.4 940.2,312.8 941.4,312.5 Z" fill="#262c66"/>
<g transform="translate(828.4,6.6) rotate(-28)">
<line x1="0" y1="165" x2="0" y2="211" stroke="#8a8f99" stroke-width="1.1"/>
<path d="M-4,139 L4,139 L2.2,165 L-2.2,165 Z" fill="#aab6cc" stroke="#777" stroke-width="1.1"/>
<path d="M-8.8,29.5 L8.8,29.5 L8.8,131 Q8.8,135 4,137.5 L3.6,140 L-3.6,140 L-4,137.5 Q-8.8,135 -8.8,131 Z" fill="#dfe5f1" stroke="#7a7a7a" stroke-width="2.3"/>
<rect x="-3.1" y="2" width="6.2" height="90" fill="#e9eef8" stroke="#858585" stroke-width="1.5"/>
<path d="M-7.8,96 L7.8,96 L7.8,131 Q7.8,134.5 3.6,136.6 L-3.6,136.6 Q-7.8,134.5 -7.8,131 Z" fill="#a9e1ee"/>
<rect x="-7.8" y="91.5" width="15.6" height="4.6" fill="#111"/>
<line x1="2.3" y1="40" x2="7.8" y2="40" stroke="#6f6f6f" stroke-width="0.9"/>
<line x1="4.3" y1="48" x2="7.8" y2="48" stroke="#6f6f6f" stroke-width="0.9"/>
<line x1="2.3" y1="56" x2="7.8" y2="56" stroke="#6f6f6f" stroke-width="0.9"/>
<line x1="4.3" y1="64" x2="7.8" y2="64" stroke="#6f6f6f" stroke-width="0.9"/>
<line x1="2.3" y1="72" x2="7.8" y2="72" stroke="#6f6f6f" stroke-width="0.9"/>
<line x1="4.3" y1="80" x2="7.8" y2="80" stroke="#6f6f6f" stroke-width="0.9"/>
<line x1="2.3" y1="88" x2="7.8" y2="88" stroke="#6f6f6f" stroke-width="0.9"/>
<line x1="4.3" y1="96" x2="7.8" y2="96" stroke="#6f6f6f" stroke-width="0.9"/>
<line x1="2.3" y1="104" x2="7.8" y2="104" stroke="#6f6f6f" stroke-width="0.9"/>
<line x1="4.3" y1="112" x2="7.8" y2="112" stroke="#6f6f6f" stroke-width="0.9"/>
<line x1="2.3" y1="120" x2="7.8" y2="120" stroke="#6f6f6f" stroke-width="0.9"/>
<line x1="4.3" y1="128" x2="7.8" y2="128" stroke="#6f6f6f" stroke-width="0.9"/>
<rect x="-14.5" y="24.8" width="29" height="5.2" rx="2.4" fill="#e4e7ef" stroke="#7a7a7a" stroke-width="1.8"/>
<rect x="-10.8" y="-2.6" width="21.6" height="5.2" rx="2.4" fill="#e4e7ef" stroke="#7a7a7a" stroke-width="1.8"/>
</g>
<text x="982" y="103.8" font-size="17.8" textLength="31" lengthAdjust="spacingAndGlyphs">NIR</text>
<text x="983" y="351.5" font-size="17.6" textLength="61.5" lengthAdjust="spacingAndGlyphs">Arthritis</text>
<text x="1098" y="351.5" font-size="17.6" textLength="57.5" lengthAdjust="spacingAndGlyphs">Normal</text>
</g>
<!-- ===== LEFT PANEL ===== -->
<defs>
  <linearGradient id="gGauss" gradientUnits="userSpaceOnUse" x1="0" y1="14" x2="0" y2="216">
    <stop offset="0" stop-color="#f8d3cd"/>
    <stop offset="0.18" stop-color="#efaeb0"/>
    <stop offset="0.30" stop-color="#e9999f"/>
    <stop offset="0.42" stop-color="#eeb8b5"/>
    <stop offset="0.52" stop-color="#f1d1ca"/>
    <stop offset="0.62" stop-color="#ecdcd0"/>
    <stop offset="0.72" stop-color="#e6eedf"/>
    <stop offset="0.85" stop-color="#eef3e8"/>
    <stop offset="1" stop-color="#f8f5ee"/>
  </linearGradient>
  <linearGradient id="gGaussH" x1="0" y1="0" x2="1" y2="0">
    <stop offset="0" stop-color="#fef2e9" stop-opacity="0.55"/>
    <stop offset="0.6" stop-color="#fef2e9" stop-opacity="0"/>
  </linearGradient>
  <linearGradient id="gRed" x1="0" y1="0" x2="0" y2="1">
    <stop offset="0" stop-color="#fcb0b4"/>
    <stop offset="0.28" stop-color="#fcb3b7"/>
    <stop offset="0.55" stop-color="#fcc9ca"/>
    <stop offset="0.8" stop-color="#fde3e1"/>
    <stop offset="1" stop-color="#fef6f3"/>
  </linearGradient>
  <linearGradient id="gNir" gradientUnits="userSpaceOnUse" x1="13" y1="178" x2="70" y2="213">
    <stop offset="0" stop-color="#ee1c2a"/>
    <stop offset="0.5" stop-color="#f5757b"/>
    <stop offset="1" stop-color="#fde0da"/>
  </linearGradient>
  <linearGradient id="gArrL" gradientUnits="userSpaceOnUse" x1="230" y1="150" x2="270" y2="90">
    <stop offset="0" stop-color="#dedede"/>
    <stop offset="0.5" stop-color="#ededed"/>
    <stop offset="1" stop-color="#fbfbfb"/>
  </linearGradient>
  <linearGradient id="gArrD" gradientUnits="userSpaceOnUse" x1="228" y1="150" x2="272" y2="210">
    <stop offset="0" stop-color="#d9d9d9"/>
    <stop offset="0.4" stop-color="#cdcdcd"/>
    <stop offset="1" stop-color="#c6c6c6"/>
  </linearGradient>
  <radialGradient id="gLeftBg" gradientUnits="userSpaceOnUse" cx="240" cy="200" r="260">
    <stop offset="0" stop-color="#fff8f1" stop-opacity="1"/>
    <stop offset="0.5" stop-color="#fff6ee" stop-opacity="0.6"/>
    <stop offset="1" stop-color="#fef2e9" stop-opacity="0"/>
  </radialGradient>
  <g id="ribbon">
    <path d="M225.5,150 C226,180 245,210 273.9,215.3 L273.9,202.1 C250,198 230,178 226.5,150 Z" fill="url(#gArrD)" stroke="#2b2b2b" stroke-width="0.9" stroke-linejoin="round"/>
    <path d="M225.5,150 C225,125 240,98 261.2,88 L262.4,82.5 L273.9,93.3 L264.3,107.7 L261.9,100.8 C245,108 228,128 226.5,150 Z" fill="url(#gArrL)" stroke="#2b2b2b" stroke-width="0.9" stroke-linejoin="miter"/>
  </g>
</defs>
<rect x="0" y="0" width="320.8" height="448.6" fill="#fef2e9"/>
<rect x="0" y="0" width="320.8" height="448.6" fill="url(#gLeftBg)"/>
<g id="left">
  <rect x="125" y="129" width="73" height="200" fill="#fde6d7"/>
  <path d="M124.5,14 L124.3,14 L124.2,17 L124.1,20 L123.9,23 L123.6,26 L123.2,29 L122.8,32 L122.1,35 L121.3,38 L120.3,41 L118.9,44 L117.2,47 L115.2,50 L112.7,53 L109.6,56 L106.1,59 L101.9,62 L97.2,65 L91.8,68 L85.9,71 L79.4,74 L72.4,77 L65.1,80 L57.5,83 L49.9,86 L42.3,89 L35.1,92 L28.4,95 L22.5,98 L17.4,101 L13.4,104 L10.7,107 L9.2,110 L9.1,113 L10.1,116 L12.2,119 L15.2,122 L19.2,125 L23.9,128 L29.3,131 L35.3,134 L41.7,137 L48.4,140 L55.1,143 L61.9,146 L68.5,149 L74.9,152 L81.0,155 L86.6,158 L91.9,161 L96.7,164 L101.0,167 L104.8,170 L108.2,173 L111.1,176 L113.6,179 L115.7,182 L117.4,185 L118.9,188 L120.1,191 L121.1,194 L121.9,197 L122.5,200 L123.0,203 L123.4,206 L123.7,209 L123.9,212 L124.1,215 L124.5,216 Z" fill="url(#gGauss)"/>
  <path d="M124.5,14 L124.3,14 L124.2,17 L124.1,20 L123.9,23 L123.6,26 L123.2,29 L122.8,32 L122.1,35 L121.3,38 L120.3,41 L118.9,44 L117.2,47 L115.2,50 L112.7,53 L109.6,56 L106.1,59 L101.9,62 L97.2,65 L91.8,68 L85.9,71 L79.4,74 L72.4,77 L65.1,80 L57.5,83 L49.9,86 L42.3,89 L35.1,92 L28.4,95 L22.5,98 L17.4,101 L13.4,104 L10.7,107 L9.2,110 L9.1,113 L10.1,116 L12.2,119 L15.2,122 L19.2,125 L23.9,128 L29.3,131 L35.3,134 L41.7,137 L48.4,140 L55.1,143 L61.9,146 L68.5,149 L74.9,152 L81.0,155 L86.6,158 L91.9,161 L96.7,164 L101.0,167 L104.8,170 L108.2,173 L111.1,176 L113.6,179 L115.7,182 L117.4,185 L118.9,188 L120.1,191 L121.1,194 L121.9,197 L122.5,200 L123.0,203 L123.4,206 L123.7,209 L123.9,212 L124.1,215 L124.5,216 Z" fill="url(#gGaussH)" stroke="#8da3c4" stroke-width="0.9"/>
  <rect x="7.7" y="285.6" width="117" height="147" fill="url(#gRed)"/>
  <line x1="125" y1="14" x2="125" y2="430" stroke="#86bfe0" stroke-width="2.6" stroke-dasharray="2.3 2.3"/>
  <rect x="125" y="115.8" width="73" height="13.8" fill="#4577ba"/>
  <rect x="125" y="328.4" width="73" height="13.6" fill="#4577ba"/>
  <line x1="125" y1="150.2" x2="223.2" y2="150.2" stroke="#4577ba" stroke-width="5" stroke-dasharray="15 5.75"/>
  <path d="M161.5,161.5 L176.3,212.5 L169.1,212.5 L169.1,315.7 L153.5,315.7 L153.5,212.5 L146.2,212.5 Z" fill="#fde6d7" stroke="#1a1a1a" stroke-width="1.2" stroke-linejoin="miter"/>
  <line x1="84.1" y1="307.3" x2="84.1" y2="134" stroke="#4577ba" stroke-width="2"/>
  <path d="M84.1,127.5 L91.2,142.5 L84.1,138.5 L77,142.5 Z" fill="#4577ba"/>
  <path d="M15.6,174.9 L74,204.5 L64.4,221.3 L11.5,181.2 Z" fill="url(#gNir)"/>
  <text transform="translate(7.5,220.5) rotate(40)" font-size="17.5">NIR</text>
  <path d="M125.3,58.6 C127,80 134,98 143,108" fill="none" stroke="#4577ba" stroke-width="1.7"/>
  <path d="M147.8,114.2 L135.2,108.6 L141.3,106.2 L141.6,99.5 Z" fill="#4577ba"/>
  <path d="M198,117.8 C210,117.5 217,125 218.3,138" fill="none" stroke="#4577ba" stroke-width="1.7"/>
  <path d="M219.2,146 L212,133.6 L217.5,135.8 L221.4,132.3 Z" fill="#4577ba"/>
  <use href="#ribbon"/>
  <use href="#ribbon" transform="translate(0,483.8) scale(1,-1)"/>
  <text x="57.7" y="27.5" font-size="17.7" text-anchor="middle">Plasmonic</text>
  <text x="57.7" y="50" font-size="17.7" text-anchor="middle">excitation</text>
  <text x="44.5" y="117" font-size="19">e<tspan dy="-7.5" font-size="12">-</tspan></text>
  <text x="132.5" y="57.5" font-size="19">e<tspan dy="-7.5" font-size="12">-</tspan></text>
  <text x="158.2" y="108" font-size="19">e<tspan dy="-7.5" font-size="12">-</tspan></text>
  <text x="204" y="116" font-size="19">e<tspan dy="-7.5" font-size="12">-</tspan></text>
  <text x="46.2" y="328.9" font-size="19.6">h<tspan dy="-7" dx="0.5" font-size="12">+</tspan></text>
  <text x="155.8" y="366.9" font-size="19.6">h<tspan dy="-7" dx="0.5" font-size="12">+</tspan></text>
  <text x="204.7" y="342.8" font-size="19.6">h<tspan dy="-7" dx="0.5" font-size="12">+</tspan></text>
  <text x="66.4" y="392.5" font-size="17.8" text-anchor="middle">Plasmonic</text>
  <text x="66.7" y="416" font-size="17.8" text-anchor="middle">effect</text>
  <text x="136.3" y="405.9" font-size="17.3">H<tspan dy="4.5" font-size="11.5">x</tspan><tspan dy="-4.5" dx="0.8" font-size="17.3">TiO</tspan><tspan font-size="11.5" dx="0.6">2-x</tspan></text>
  <text x="133.6" y="428.5" font-size="17.9">Nanorod</text>
  <text x="279" y="98.8" font-size="17.8">H<tspan dy="4.8" font-size="11.5">2</tspan></text>
  <text x="279" y="216" font-size="17.8">H<tspan dy="-7" font-size="11.5">+</tspan></text>
  <text x="279.7" y="282" font-size="17.8">LA</text>
  <text x="279.5" y="397.7" font-size="17.8">PA</text>
  <path d="M304,92.6 H333 M333.4,79.1 V106" fill="none" stroke="#16a54d" stroke-width="4"/>
  <path d="M304,338.3 H333 M333.4,325 V351.4" fill="none" stroke="#16a54d" stroke-width="4"/>
</g>
</svg>
</body>
</html>
